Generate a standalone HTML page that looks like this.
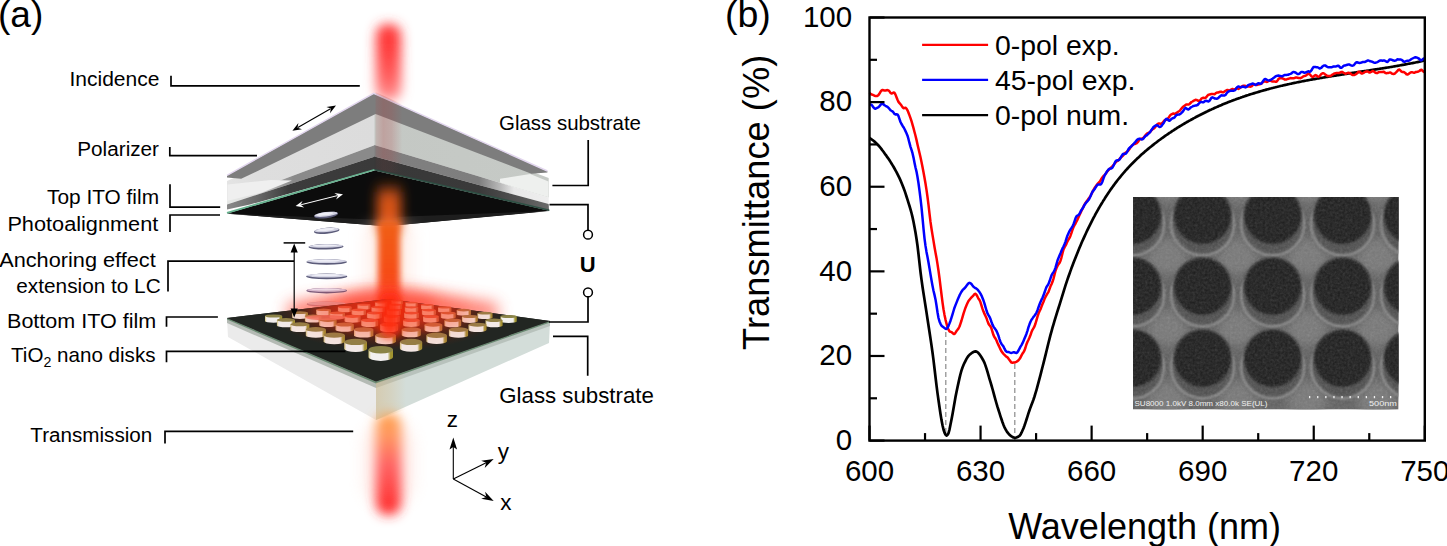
<!DOCTYPE html>
<html><head><meta charset="utf-8"><style>
html,body{margin:0;padding:0;background:#fff;}
svg{display:block;font-family:"Liberation Sans", sans-serif;}
</style></head><body>
<svg width="1447" height="546" viewBox="0 0 1447 546">
<defs>
<filter id="b3" x="-50%" y="-50%" width="200%" height="200%"><feGaussianBlur stdDeviation="3"/></filter>
<filter id="b5" x="-50%" y="-50%" width="200%" height="200%"><feGaussianBlur stdDeviation="5"/></filter>
<filter id="b6" x="-60%" y="-50%" width="220%" height="200%"><feGaussianBlur stdDeviation="6"/></filter>
<filter id="b8" x="-50%" y="-50%" width="200%" height="200%"><feGaussianBlur stdDeviation="8"/></filter>
<filter id="b14" x="-80%" y="-80%" width="260%" height="260%"><feGaussianBlur stdDeviation="14"/></filter>
<filter id="b1" x="-50%" y="-50%" width="200%" height="200%"><feGaussianBlur stdDeviation="1"/></filter>
<linearGradient id="beamTop" x1="0" y1="0" x2="0" y2="1">
 <stop offset="0" stop-color="#ff3c3c"/><stop offset="0.28" stop-color="#ff3a3a"/><stop offset="0.7" stop-color="#ff6060"/><stop offset="1" stop-color="#ff9a9a"/></linearGradient>
<linearGradient id="beamBot" x1="0" y1="0" x2="0" y2="1">
 <stop offset="0" stop-color="#ffa048"/><stop offset="0.2" stop-color="#ff9a60"/><stop offset="0.5" stop-color="#ff6464"/><stop offset="1" stop-color="#ff2828"/></linearGradient>
<linearGradient id="beamMid" x1="0" y1="0" x2="0" y2="1">
 <stop offset="0" stop-color="#f06018"/><stop offset="0.7" stop-color="#f84818"/><stop offset="1" stop-color="#ff2a10"/></linearGradient>
<radialGradient id="glow" cx="0.5" cy="0.5" r="0.5">
 <stop offset="0" stop-color="#ff2a10" stop-opacity="0.95"/><stop offset="0.5" stop-color="#ff4a30" stop-opacity="0.6"/><stop offset="1" stop-color="#ff6050" stop-opacity="0"/></radialGradient>
<radialGradient id="semglow" cx="0.5" cy="0.5" r="0.6">
 <stop offset="0" stop-color="#8a8a8a"/><stop offset="1" stop-color="#6a6a6a"/></radialGradient>
</defs>
<text x="-2" y="27" font-size="37" text-anchor="start" font-weight="normal" fill="#000" >(a)</text>
<rect x="376" y="24" width="25" height="77" rx="11" fill="url(#beamTop)" filter="url(#b6)"/>
<defs>
<linearGradient id="gL" gradientUnits="userSpaceOnUse" x1="227" y1="0" x2="374.5" y2="0">
 <stop offset="0" stop-color="#e4e4e4"/><stop offset="0.2" stop-color="#dedede"/><stop offset="1" stop-color="#dcdcdc"/></linearGradient>
<linearGradient id="gR" gradientUnits="userSpaceOnUse" x1="374.5" y1="0" x2="548.7" y2="0">
 <stop offset="0" stop-color="#c4c8c4"/><stop offset="1" stop-color="#c6cac6"/></linearGradient>
<linearGradient id="mL" gradientUnits="userSpaceOnUse" x1="227" y1="0" x2="374.5" y2="0">
 <stop offset="0" stop-color="#e6e8e6"/><stop offset="0.2" stop-color="#e0e0e0"/><stop offset="0.36" stop-color="#a0a0a0"/><stop offset="0.45" stop-color="#8a8a8a"/><stop offset="1" stop-color="#8a8a8a"/></linearGradient>
<linearGradient id="mR" gradientUnits="userSpaceOnUse" x1="374.5" y1="0" x2="548.7" y2="0">
 <stop offset="0" stop-color="#808080"/><stop offset="0.6" stop-color="#7e7e7e"/><stop offset="0.72" stop-color="#b8b8b8"/><stop offset="0.8" stop-color="#e8e8e8"/><stop offset="1" stop-color="#eeeeee"/></linearGradient>
<linearGradient id="dL" gradientUnits="userSpaceOnUse" x1="227" y1="0" x2="374.5" y2="0">
 <stop offset="0" stop-color="#8a8a8a"/><stop offset="0.2" stop-color="#6a6a6a"/><stop offset="0.42" stop-color="#3c3c3c"/><stop offset="1" stop-color="#3a3a3a"/></linearGradient>
<linearGradient id="dR" gradientUnits="userSpaceOnUse" x1="374.5" y1="0" x2="549" y2="0">
 <stop offset="0" stop-color="#383838"/><stop offset="0.6" stop-color="#3a3a3a"/><stop offset="0.85" stop-color="#555555"/><stop offset="1" stop-color="#6a6a6a"/></linearGradient>
<linearGradient id="tint" x1="0" y1="0" x2="1" y2="0">
 <stop offset="0" stop-color="#b04040" stop-opacity="0.12"/><stop offset="0.3" stop-color="#b04040" stop-opacity="0.28"/><stop offset="0.6" stop-color="#b04040" stop-opacity="0.22"/><stop offset="1" stop-color="#b04040" stop-opacity="0"/></linearGradient>
</defs>
<polygon points="227.0,181.0 375.1,113.0 375.1,144.9 227.0,200.3" fill="url(#gL)" />
<polygon points="374.5,113.0 548.7,178.0 548.7,197.4 374.5,144.9" fill="url(#gR)" />
<polygon points="227.0,200.3 375.1,144.9 375.1,156.5 227.0,204.5" fill="url(#mL)" />
<polygon points="374.5,144.9 548.7,197.4 548.7,204.0 374.5,156.5" fill="url(#mR)" />
<polygon points="227.0,204.5 375.1,156.5 375.1,169.5 250.0,204.5 227.0,209.5" fill="url(#dL)" />
<polygon points="374.5,156.5 548.7,204.0 549.0,210.6 374.5,170.3" fill="url(#dR)" />
<polygon points="500.0,178.7 530.2,174.1 548.5,181.5 548.5,197.2 514.0,187.0 500.0,182.6" fill="#eef0ee" />
<polygon points="227.5,184.5 271.0,180.0 292.0,180.5 262.0,192.5 227.5,200.8" fill="#efefef" />
<polygon points="227.0,213.5 374.5,170.5 549.4,210.8 386.0,226.3" fill="#0c0c0c" />
<polygon points="227.0,213.7 386.0,226.3 549.4,211.0 400.0,216.8 386.0,220.0" fill="#1e1e1e" />
<polyline points="227,212.9 374.5,169.7" fill="none" stroke="#66b28f" stroke-width="1.7"/>
<polygon points="374.5,168.9 549.4,209.4 549.4,211.1 374.5,170.6" fill="#2e5044" />
<polygon points="227.0,175.6 373.7,93.5 547.4,171.2 547.4,172.5 531.4,173.7 375.6,114.1 241.2,178.8 227.0,177.4" fill="#7d7d7d" />
<polyline points="227,175.4 373.7,93.3 547.4,171" fill="none" stroke="#e2d6ee" stroke-width="1.4"/>
<defs><clipPath id="tc1"><polygon points="375.3,92 548,170 548,204 375.3,156.5"/></clipPath><clipPath id="tc2"><polygon points="375.3,156.5 548,204 549,209.5 375.3,168.7"/></clipPath></defs>
<rect x="375.3" y="92" width="27" height="80" fill="url(#tint)" clip-path="url(#tc1)"/>
<rect x="375.3" y="92" width="27" height="80" fill="url(#tint)" opacity="0.35" clip-path="url(#tc2)"/>
<defs><linearGradient id="bInBlack" x1="0" y1="0" x2="0" y2="1"><stop offset="0" stop-color="#e65a18" stop-opacity="0"/><stop offset="0.3" stop-color="#e65a18" stop-opacity="0.9"/><stop offset="1" stop-color="#e85818"/></linearGradient></defs>
<rect x="377" y="181" width="24" height="52" fill="url(#bInBlack)" filter="url(#b6)"/>
<rect x="366" y="226" width="46" height="72" fill="#ffe0d4" opacity="0.5" filter="url(#b8)"/>
<rect x="378" y="222" width="22" height="92" fill="url(#beamMid)" filter="url(#b3)"/>
<polygon points="288,322 388,303 497,322 497,304 388,287 288,304" fill="#ff5a48" opacity="0.82" filter="url(#b8)"/>
<ellipse cx="388" cy="306" rx="50" ry="12" fill="#ff3020" opacity="0.6" filter="url(#b8)"/>
<g transform="translate(326,214.6) rotate(-7)"><ellipse cx="0" cy="0.5" rx="12.2" ry="3.1" fill="#5c5c7a"/><ellipse cx="0" cy="-0.3" rx="11.7" ry="2.2" fill="#d2d2e2"/><ellipse cx="-1" cy="-0.8" rx="8.5" ry="1.4" fill="#eeeef6"/></g>
<g transform="translate(326.7,230.3) rotate(-5)"><ellipse cx="0" cy="0.5" rx="12.8" ry="3.0" fill="#5c5c7a"/><ellipse cx="0" cy="-0.3" rx="12.3" ry="2.1" fill="#d2d2e2"/><ellipse cx="-1" cy="-0.8" rx="9.0" ry="1.3" fill="#eeeef6"/></g>
<g transform="translate(326,246.3) rotate(-1)"><ellipse cx="0" cy="0.5" rx="17.5" ry="2.6999999999999997" fill="#5c5c7a"/><ellipse cx="0" cy="-0.3" rx="17.0" ry="1.7999999999999998" fill="#d2d2e2"/><ellipse cx="-1" cy="-0.8" rx="12.2" ry="1.0" fill="#eeeef6"/></g>
<g transform="translate(326.7,261.4) rotate(0)"><ellipse cx="0" cy="0.5" rx="20.3" ry="2.8" fill="#5c5c7a"/><ellipse cx="0" cy="-0.3" rx="19.8" ry="1.9" fill="#d2d2e2"/><ellipse cx="-1" cy="-0.8" rx="14.2" ry="1.1" fill="#eeeef6"/></g>
<g transform="translate(326.7,275.9) rotate(0)"><ellipse cx="0" cy="0.5" rx="20.6" ry="2.8" fill="#5c5c7a"/><ellipse cx="0" cy="-0.3" rx="20.1" ry="1.9" fill="#d2d2e2"/><ellipse cx="-1" cy="-0.8" rx="14.4" ry="1.1" fill="#eeeef6"/></g>
<g transform="translate(326.7,290.2) rotate(0)"><ellipse cx="0" cy="0.5" rx="20.3" ry="2.6999999999999997" fill="#7a5a7a"/><ellipse cx="0" cy="-0.3" rx="19.8" ry="1.7999999999999998" fill="#d8bcd0"/><ellipse cx="-1" cy="-0.8" rx="14.2" ry="1.0" fill="#ecdce8"/></g>
<ellipse cx="326.5" cy="304.2" rx="19.8" ry="2.6" fill="#c86a70" opacity="0.8"/>
<ellipse cx="326.5" cy="303.6" rx="19" ry="1.8" fill="#f0a8a8" opacity="0.8"/>
<polygon points="227.0,319.0 376.0,383.0 376.0,420.0 228.0,337.0" fill="#ebebeb" />
<polygon points="376.0,383.0 550.0,322.0 549.0,343.0 376.0,420.0" fill="#d3ddd9" />
<polygon points="227.0,319.0 376.0,383.0 376.0,388.0 227.0,323.0" fill="#b4bab4" />
<polygon points="376.0,383.0 550.0,322.0 550.0,326.0 376.0,388.0" fill="#b8c2bc" />
<polygon points="227.0,317.8 376.0,381.6 550.0,320.8 550.0,322.6 376.0,383.6 227.0,319.6" fill="#6a8a72" />
<defs><radialGradient id="plateRed" gradientUnits="userSpaceOnUse" cx="388" cy="308" r="120" gradientTransform="translate(388 308) scale(1 0.36) translate(-388 -308)">
<stop offset="0" stop-color="#e02810"/><stop offset="0.35" stop-color="#b02a14"/><stop offset="0.7" stop-color="#4a2418"/><stop offset="1" stop-color="#222622"/></radialGradient>
<clipPath id="plateClip"><polygon points="227,318 388,299 550,321 376,381.5"/></clipPath></defs>
<polygon points="227.0,318.0 388.0,299.0 550.0,321.0 376.0,381.5" fill="#222622" />
<rect x="227" y="295" width="323" height="90" fill="url(#plateRed)" clip-path="url(#plateClip)"/>
<defs><linearGradient id="dg66" x1="0" y1="0" x2="1" y2="0"><stop offset="0" stop-color="#e89070"/><stop offset="0.1" stop-color="#f7a890"/><stop offset="0.78" stop-color="#f7a890"/><stop offset="0.9" stop-color="#d06040"/><stop offset="1" stop-color="#d06040"/></linearGradient></defs>
<path d="M391.3,300.5 L391.3,304.0 A5.8,0.9 0 0 0 402.9,304.0 L402.9,300.5 Z" fill="url(#dg66)"/>
<ellipse cx="397.1" cy="300.5" rx="5.8" ry="0.9" fill="#e8583a"/>
<defs><linearGradient id="dg56" x1="0" y1="0" x2="1" y2="0"><stop offset="0" stop-color="#e89070"/><stop offset="0.1" stop-color="#f7a890"/><stop offset="0.78" stop-color="#f7a890"/><stop offset="0.9" stop-color="#d06040"/><stop offset="1" stop-color="#d06040"/></linearGradient></defs>
<path d="M405.4,302.6 L405.4,306.2 A6.1,0.9 0 0 0 417.6,306.2 L417.6,302.6 Z" fill="url(#dg56)"/>
<ellipse cx="411.5" cy="302.6" rx="6.1" ry="0.9" fill="#e8583a"/>
<defs><linearGradient id="dg65" x1="0" y1="0" x2="1" y2="0"><stop offset="0" stop-color="#e89070"/><stop offset="0.1" stop-color="#f7a890"/><stop offset="0.78" stop-color="#f7a890"/><stop offset="0.9" stop-color="#d06040"/><stop offset="1" stop-color="#d06040"/></linearGradient></defs>
<path d="M375.1,302.5 L375.1,306.2 A6.1,0.9 0 0 0 387.4,306.2 L387.4,302.5 Z" fill="url(#dg65)"/>
<ellipse cx="381.3" cy="302.5" rx="6.1" ry="0.9" fill="#e8583a"/>
<defs><linearGradient id="dg46" x1="0" y1="0" x2="1" y2="0"><stop offset="0" stop-color="#e89070"/><stop offset="0.1" stop-color="#f7a890"/><stop offset="0.78" stop-color="#f7a890"/><stop offset="0.9" stop-color="#d06040"/><stop offset="1" stop-color="#d06040"/></linearGradient></defs>
<path d="M421.0,304.9 L421.0,308.7 A6.4,1.0 0 0 0 433.7,308.7 L433.7,304.9 Z" fill="url(#dg46)"/>
<ellipse cx="427.3" cy="304.9" rx="6.4" ry="1.0" fill="#e8583a"/>
<defs><linearGradient id="dg55" x1="0" y1="0" x2="1" y2="0"><stop offset="0" stop-color="#e89070"/><stop offset="0.1" stop-color="#f7a890"/><stop offset="0.78" stop-color="#f7a890"/><stop offset="0.9" stop-color="#d06040"/><stop offset="1" stop-color="#d06040"/></linearGradient></defs>
<path d="M389.3,304.8 L389.3,308.6 A6.4,1.0 0 0 0 402.1,308.6 L402.1,304.8 Z" fill="url(#dg55)"/>
<ellipse cx="395.7" cy="304.8" rx="6.4" ry="1.0" fill="#e8583a"/>
<defs><linearGradient id="dg64" x1="0" y1="0" x2="1" y2="0"><stop offset="0" stop-color="#e89070"/><stop offset="0.1" stop-color="#f7a890"/><stop offset="0.78" stop-color="#f7a890"/><stop offset="0.9" stop-color="#d06040"/><stop offset="1" stop-color="#d06040"/></linearGradient></defs>
<path d="M357.4,304.7 L357.4,308.6 A6.5,1.0 0 0 0 370.4,308.6 L370.4,304.7 Z" fill="url(#dg64)"/>
<ellipse cx="363.9" cy="304.7" rx="6.5" ry="1.0" fill="#e8583a"/>
<defs><linearGradient id="dg36" x1="0" y1="0" x2="1" y2="0"><stop offset="0" stop-color="#e59771"/><stop offset="0.1" stop-color="#f7ae98"/><stop offset="0.78" stop-color="#f7ae98"/><stop offset="0.9" stop-color="#c9673e"/><stop offset="1" stop-color="#c9673e"/></linearGradient></defs>
<path d="M438.0,307.4 L438.0,311.4 A6.7,1.1 0 0 0 451.4,311.4 L451.4,307.4 Z" fill="url(#dg36)"/>
<ellipse cx="444.7" cy="307.4" rx="6.7" ry="1.1" fill="#da5e3c"/>
<defs><linearGradient id="dg45" x1="0" y1="0" x2="1" y2="0"><stop offset="0" stop-color="#e89070"/><stop offset="0.1" stop-color="#f7a890"/><stop offset="0.78" stop-color="#f7a890"/><stop offset="0.9" stop-color="#d06040"/><stop offset="1" stop-color="#d06040"/></linearGradient></defs>
<path d="M404.8,307.3 L404.8,311.3 A6.7,1.1 0 0 0 418.2,311.3 L418.2,307.3 Z" fill="url(#dg45)"/>
<ellipse cx="411.5" cy="307.3" rx="6.7" ry="1.1" fill="#e8583a"/>
<defs><linearGradient id="dg54" x1="0" y1="0" x2="1" y2="0"><stop offset="0" stop-color="#e89070"/><stop offset="0.1" stop-color="#f7a890"/><stop offset="0.78" stop-color="#f7a890"/><stop offset="0.9" stop-color="#d06040"/><stop offset="1" stop-color="#d06040"/></linearGradient></defs>
<path d="M371.4,307.2 L371.4,311.3 A6.7,1.1 0 0 0 384.9,311.3 L384.9,307.2 Z" fill="url(#dg54)"/>
<ellipse cx="378.2" cy="307.2" rx="6.7" ry="1.1" fill="#e8583a"/>
<defs><linearGradient id="dg63" x1="0" y1="0" x2="1" y2="0"><stop offset="0" stop-color="#e89070"/><stop offset="0.1" stop-color="#f7a890"/><stop offset="0.78" stop-color="#f7a890"/><stop offset="0.9" stop-color="#d06040"/><stop offset="1" stop-color="#d06040"/></linearGradient></defs>
<path d="M337.9,307.1 L337.9,311.2 A6.9,1.1 0 0 0 351.6,311.2 L351.6,307.1 Z" fill="url(#dg63)"/>
<ellipse cx="344.8" cy="307.1" rx="6.9" ry="1.1" fill="#e8583a"/>
<defs><linearGradient id="dg26" x1="0" y1="0" x2="1" y2="0"><stop offset="0" stop-color="#dca974"/><stop offset="0.1" stop-color="#f5c8bb"/><stop offset="0.78" stop-color="#f5c8bb"/><stop offset="0.9" stop-color="#b97938"/><stop offset="1" stop-color="#b97938"/></linearGradient></defs>
<path d="M456.7,310.1 L456.7,314.4 A7.1,1.3 0 0 0 470.9,314.4 L470.9,310.1 Z" fill="url(#dg26)"/>
<ellipse cx="463.8" cy="310.1" rx="7.1" ry="1.3" fill="#bb6d41"/>
<defs><linearGradient id="dg35" x1="0" y1="0" x2="1" y2="0"><stop offset="0" stop-color="#e89070"/><stop offset="0.1" stop-color="#f7a890"/><stop offset="0.78" stop-color="#f7a890"/><stop offset="0.9" stop-color="#d06040"/><stop offset="1" stop-color="#d06040"/></linearGradient></defs>
<path d="M421.9,310.1 L421.9,314.3 A7.0,1.3 0 0 0 436.0,314.3 L436.0,310.1 Z" fill="url(#dg35)"/>
<ellipse cx="428.9" cy="310.1" rx="7.0" ry="1.3" fill="#e8583a"/>
<defs><linearGradient id="dg44" x1="0" y1="0" x2="1" y2="0"><stop offset="0" stop-color="#e89070"/><stop offset="0.1" stop-color="#f7a890"/><stop offset="0.78" stop-color="#f7a890"/><stop offset="0.9" stop-color="#d06040"/><stop offset="1" stop-color="#d06040"/></linearGradient></defs>
<path d="M386.9,310.0 L386.9,314.2 A7.1,1.3 0 0 0 401.0,314.2 L401.0,310.0 Z" fill="url(#dg44)"/>
<ellipse cx="393.9" cy="310.0" rx="7.1" ry="1.3" fill="#e8583a"/>
<defs><linearGradient id="dg53" x1="0" y1="0" x2="1" y2="0"><stop offset="0" stop-color="#e89070"/><stop offset="0.1" stop-color="#f7a890"/><stop offset="0.78" stop-color="#f7a890"/><stop offset="0.9" stop-color="#d06040"/><stop offset="1" stop-color="#d06040"/></linearGradient></defs>
<path d="M351.6,309.9 L351.6,314.2 A7.2,1.3 0 0 0 366.0,314.2 L366.0,309.9 Z" fill="url(#dg53)"/>
<ellipse cx="358.8" cy="309.9" rx="7.2" ry="1.3" fill="#e8583a"/>
<defs><linearGradient id="dg62" x1="0" y1="0" x2="1" y2="0"><stop offset="0" stop-color="#dfa373"/><stop offset="0.1" stop-color="#f5bfae"/><stop offset="0.78" stop-color="#f5bfae"/><stop offset="0.9" stop-color="#bf733a"/><stop offset="1" stop-color="#bf733a"/></linearGradient></defs>
<path d="M316.2,309.8 L316.2,314.2 A7.3,1.3 0 0 0 330.9,314.2 L330.9,309.8 Z" fill="url(#dg62)"/>
<ellipse cx="323.6" cy="309.8" rx="7.3" ry="1.3" fill="#c6683f"/>
<defs><linearGradient id="dg16" x1="0" y1="0" x2="1" y2="0"><stop offset="0" stop-color="#d5b976"/><stop offset="0.1" stop-color="#f3e0da"/><stop offset="0.78" stop-color="#f3e0da"/><stop offset="0.9" stop-color="#aa8933"/><stop offset="1" stop-color="#aa8933"/></linearGradient></defs>
<path d="M477.4,313.2 L477.4,317.7 A7.5,1.4 0 0 0 492.5,317.7 L492.5,313.2 Z" fill="url(#dg16)"/>
<ellipse cx="485.0" cy="313.2" rx="7.5" ry="1.4" fill="#9e7b45"/>
<defs><linearGradient id="dg25" x1="0" y1="0" x2="1" y2="0"><stop offset="0" stop-color="#e29d72"/><stop offset="0.1" stop-color="#f6b6a3"/><stop offset="0.78" stop-color="#f6b6a3"/><stop offset="0.9" stop-color="#c46d3c"/><stop offset="1" stop-color="#c46d3c"/></linearGradient></defs>
<path d="M440.8,313.1 L440.8,317.6 A7.4,1.4 0 0 0 455.7,317.6 L455.7,313.1 Z" fill="url(#dg25)"/>
<ellipse cx="448.3" cy="313.1" rx="7.4" ry="1.4" fill="#d1633d"/>
<defs><linearGradient id="dg34" x1="0" y1="0" x2="1" y2="0"><stop offset="0" stop-color="#e89070"/><stop offset="0.1" stop-color="#f7a890"/><stop offset="0.78" stop-color="#f7a890"/><stop offset="0.9" stop-color="#d06040"/><stop offset="1" stop-color="#d06040"/></linearGradient></defs>
<path d="M404.0,313.1 L404.0,317.5 A7.4,1.4 0 0 0 418.9,317.5 L418.9,313.1 Z" fill="url(#dg34)"/>
<ellipse cx="411.4" cy="313.1" rx="7.4" ry="1.4" fill="#e8583a"/>
<defs><linearGradient id="dg43" x1="0" y1="0" x2="1" y2="0"><stop offset="0" stop-color="#e89070"/><stop offset="0.1" stop-color="#f7a890"/><stop offset="0.78" stop-color="#f7a890"/><stop offset="0.9" stop-color="#d06040"/><stop offset="1" stop-color="#d06040"/></linearGradient></defs>
<path d="M366.9,313.0 L366.9,317.5 A7.5,1.4 0 0 0 381.9,317.5 L381.9,313.0 Z" fill="url(#dg43)"/>
<ellipse cx="374.4" cy="313.0" rx="7.5" ry="1.4" fill="#e8583a"/>
<defs><linearGradient id="dg52" x1="0" y1="0" x2="1" y2="0"><stop offset="0" stop-color="#e49871"/><stop offset="0.1" stop-color="#f7ae99"/><stop offset="0.78" stop-color="#f7ae99"/><stop offset="0.9" stop-color="#c9683e"/><stop offset="1" stop-color="#c9683e"/></linearGradient></defs>
<path d="M329.6,312.9 L329.6,317.5 A7.7,1.4 0 0 0 345.0,317.5 L345.0,312.9 Z" fill="url(#dg52)"/>
<ellipse cx="337.3" cy="312.9" rx="7.7" ry="1.4" fill="#da5e3c"/>
<defs><linearGradient id="dg61" x1="0" y1="0" x2="1" y2="0"><stop offset="0" stop-color="#d7b676"/><stop offset="0.1" stop-color="#f3dbd4"/><stop offset="0.78" stop-color="#f3dbd4"/><stop offset="0.9" stop-color="#ad8634"/><stop offset="1" stop-color="#ad8634"/></linearGradient></defs>
<path d="M292.1,312.7 L292.1,317.5 A7.9,1.4 0 0 0 307.9,317.5 L307.9,312.7 Z" fill="url(#dg61)"/>
<ellipse cx="300.0" cy="312.7" rx="7.9" ry="1.4" fill="#a47844"/>
<defs><linearGradient id="dg06" x1="0" y1="0" x2="1" y2="0"><stop offset="0" stop-color="#d0c478"/><stop offset="0.1" stop-color="#f2f0ef"/><stop offset="0.78" stop-color="#f2f0ef"/><stop offset="0.9" stop-color="#a09430"/><stop offset="1" stop-color="#a09430"/></linearGradient></defs>
<path d="M500.5,316.5 L500.5,321.4 A8.1,1.6 0 0 0 516.7,321.4 L516.7,316.5 Z" fill="url(#dg06)"/>
<ellipse cx="508.6" cy="316.5" rx="8.1" ry="1.6" fill="#8b8448"/>
<defs><linearGradient id="dg15" x1="0" y1="0" x2="1" y2="0"><stop offset="0" stop-color="#d9b175"/><stop offset="0.1" stop-color="#f4d4ca"/><stop offset="0.78" stop-color="#f4d4ca"/><stop offset="0.9" stop-color="#b28136"/><stop offset="1" stop-color="#b28136"/></linearGradient></defs>
<path d="M461.9,316.5 L461.9,321.3 A7.9,1.6 0 0 0 477.8,321.3 L477.8,316.5 Z" fill="url(#dg15)"/>
<ellipse cx="469.8" cy="316.5" rx="7.9" ry="1.6" fill="#ad7443"/>
<defs><linearGradient id="dg24" x1="0" y1="0" x2="1" y2="0"><stop offset="0" stop-color="#e79270"/><stop offset="0.1" stop-color="#f7a890"/><stop offset="0.78" stop-color="#f7a890"/><stop offset="0.9" stop-color="#ce623f"/><stop offset="1" stop-color="#ce623f"/></linearGradient></defs>
<path d="M423.0,316.5 L423.0,321.2 A7.9,1.6 0 0 0 438.8,321.2 L438.8,316.5 Z" fill="url(#dg24)"/>
<ellipse cx="430.9" cy="316.5" rx="7.9" ry="1.6" fill="#e5593a"/>
<defs><linearGradient id="dg33" x1="0" y1="0" x2="1" y2="0"><stop offset="0" stop-color="#e89070"/><stop offset="0.1" stop-color="#f7a890"/><stop offset="0.78" stop-color="#f7a890"/><stop offset="0.9" stop-color="#d06040"/><stop offset="1" stop-color="#d06040"/></linearGradient></defs>
<path d="M383.9,316.4 L383.9,321.2 A7.9,1.6 0 0 0 399.7,321.2 L399.7,316.4 Z" fill="url(#dg33)"/>
<ellipse cx="391.8" cy="316.4" rx="7.9" ry="1.6" fill="#e8583a"/>
<defs><linearGradient id="dg42" x1="0" y1="0" x2="1" y2="0"><stop offset="0" stop-color="#e89070"/><stop offset="0.1" stop-color="#f7a890"/><stop offset="0.78" stop-color="#f7a890"/><stop offset="0.9" stop-color="#d06040"/><stop offset="1" stop-color="#d06040"/></linearGradient></defs>
<path d="M344.5,316.3 L344.5,321.2 A8.0,1.6 0 0 0 360.6,321.2 L360.6,316.3 Z" fill="url(#dg42)"/>
<ellipse cx="352.6" cy="316.3" rx="8.0" ry="1.6" fill="#e8583a"/>
<defs><linearGradient id="dg51" x1="0" y1="0" x2="1" y2="0"><stop offset="0" stop-color="#daaf75"/><stop offset="0.1" stop-color="#f4d0c6"/><stop offset="0.78" stop-color="#f4d0c6"/><stop offset="0.9" stop-color="#b47f37"/><stop offset="1" stop-color="#b47f37"/></linearGradient></defs>
<path d="M304.9,316.2 L304.9,321.2 A8.3,1.6 0 0 0 321.4,321.2 L321.4,316.2 Z" fill="url(#dg51)"/>
<ellipse cx="313.1" cy="316.2" rx="8.3" ry="1.6" fill="#b17242"/>
<defs><linearGradient id="dg60" x1="0" y1="0" x2="1" y2="0"><stop offset="0" stop-color="#d0c378"/><stop offset="0.1" stop-color="#f2eeee"/><stop offset="0.78" stop-color="#f2eeee"/><stop offset="0.9" stop-color="#a19330"/><stop offset="1" stop-color="#a19330"/></linearGradient></defs>
<path d="M265.0,316.0 L265.0,321.2 A8.6,1.6 0 0 0 282.2,321.2 L282.2,316.0 Z" fill="url(#dg60)"/>
<ellipse cx="273.6" cy="316.0" rx="8.6" ry="1.6" fill="#8c8348"/>
<defs><linearGradient id="dg05" x1="0" y1="0" x2="1" y2="0"><stop offset="0" stop-color="#d2c077"/><stop offset="0.1" stop-color="#f2eae8"/><stop offset="0.78" stop-color="#f2eae8"/><stop offset="0.9" stop-color="#a49031"/><stop offset="1" stop-color="#a49031"/></linearGradient></defs>
<path d="M485.5,320.3 L485.5,325.5 A8.5,1.8 0 0 0 502.6,325.5 L502.6,320.3 Z" fill="url(#dg05)"/>
<ellipse cx="494.0" cy="320.3" rx="8.5" ry="1.8" fill="#918147"/>
<defs><linearGradient id="dg14" x1="0" y1="0" x2="1" y2="0"><stop offset="0" stop-color="#dda874"/><stop offset="0.1" stop-color="#f5c7b9"/><stop offset="0.78" stop-color="#f5c7b9"/><stop offset="0.9" stop-color="#ba7839"/><stop offset="1" stop-color="#ba7839"/></linearGradient></defs>
<path d="M444.4,320.3 L444.4,325.4 A8.4,1.8 0 0 0 461.2,325.4 L461.2,320.3 Z" fill="url(#dg14)"/>
<ellipse cx="452.8" cy="320.3" rx="8.4" ry="1.8" fill="#bc6d41"/>
<defs><linearGradient id="dg23" x1="0" y1="0" x2="1" y2="0"><stop offset="0" stop-color="#e89070"/><stop offset="0.1" stop-color="#f7a890"/><stop offset="0.78" stop-color="#f7a890"/><stop offset="0.9" stop-color="#d06040"/><stop offset="1" stop-color="#d06040"/></linearGradient></defs>
<path d="M403.0,320.3 L403.0,325.3 A8.4,1.8 0 0 0 419.7,325.3 L419.7,320.3 Z" fill="url(#dg23)"/>
<ellipse cx="411.3" cy="320.3" rx="8.4" ry="1.8" fill="#e8583a"/>
<defs><linearGradient id="dg32" x1="0" y1="0" x2="1" y2="0"><stop offset="0" stop-color="#e89070"/><stop offset="0.1" stop-color="#f7a890"/><stop offset="0.78" stop-color="#f7a890"/><stop offset="0.9" stop-color="#d06040"/><stop offset="1" stop-color="#d06040"/></linearGradient></defs>
<path d="M361.2,320.2 L361.2,325.3 A8.5,1.8 0 0 0 378.2,325.3 L378.2,320.2 Z" fill="url(#dg32)"/>
<ellipse cx="369.7" cy="320.2" rx="8.5" ry="1.8" fill="#e8583a"/>
<defs><linearGradient id="dg41" x1="0" y1="0" x2="1" y2="0"><stop offset="0" stop-color="#dda874"/><stop offset="0.1" stop-color="#f5c6b8"/><stop offset="0.78" stop-color="#f5c6b8"/><stop offset="0.9" stop-color="#ba7839"/><stop offset="1" stop-color="#ba7839"/></linearGradient></defs>
<path d="M319.2,320.1 L319.2,325.3 A8.7,1.8 0 0 0 336.6,325.3 L336.6,320.1 Z" fill="url(#dg41)"/>
<ellipse cx="327.9" cy="320.1" rx="8.7" ry="1.8" fill="#bd6c40"/>
<defs><linearGradient id="dg50" x1="0" y1="0" x2="1" y2="0"><stop offset="0" stop-color="#d2c077"/><stop offset="0.1" stop-color="#f2eae8"/><stop offset="0.78" stop-color="#f2eae8"/><stop offset="0.9" stop-color="#a49031"/><stop offset="1" stop-color="#a49031"/></linearGradient></defs>
<path d="M276.9,319.9 L276.9,325.4 A9.0,1.8 0 0 0 295.0,325.4 L295.0,319.9 Z" fill="url(#dg50)"/>
<ellipse cx="285.9" cy="319.9" rx="9.0" ry="1.8" fill="#918047"/>
<defs><linearGradient id="dg04" x1="0" y1="0" x2="1" y2="0"><stop offset="0" stop-color="#d4bc77"/><stop offset="0.1" stop-color="#f3e4df"/><stop offset="0.78" stop-color="#f3e4df"/><stop offset="0.9" stop-color="#a88c33"/><stop offset="1" stop-color="#a88c33"/></linearGradient></defs>
<path d="M468.5,324.7 L468.5,330.1 A9.0,2.0 0 0 0 486.5,330.1 L486.5,324.7 Z" fill="url(#dg04)"/>
<ellipse cx="477.5" cy="324.7" rx="9.0" ry="2.0" fill="#997d46"/>
<defs><linearGradient id="dg13" x1="0" y1="0" x2="1" y2="0"><stop offset="0" stop-color="#dfa373"/><stop offset="0.1" stop-color="#f5bfae"/><stop offset="0.78" stop-color="#f5bfae"/><stop offset="0.9" stop-color="#bf733a"/><stop offset="1" stop-color="#bf733a"/></linearGradient></defs>
<path d="M424.5,324.7 L424.5,330.0 A8.9,2.0 0 0 0 442.3,330.0 L442.3,324.7 Z" fill="url(#dg13)"/>
<ellipse cx="433.4" cy="324.7" rx="8.9" ry="2.0" fill="#c6683f"/>
<defs><linearGradient id="dg22" x1="0" y1="0" x2="1" y2="0"><stop offset="0" stop-color="#e69471"/><stop offset="0.1" stop-color="#f7a991"/><stop offset="0.78" stop-color="#f7a991"/><stop offset="0.9" stop-color="#cd643f"/><stop offset="1" stop-color="#cd643f"/></linearGradient></defs>
<path d="M380.1,324.6 L380.1,330.0 A9.0,2.0 0 0 0 398.1,330.0 L398.1,324.6 Z" fill="url(#dg22)"/>
<ellipse cx="389.1" cy="324.6" rx="9.0" ry="2.0" fill="#e15b3b"/>
<defs><linearGradient id="dg31" x1="0" y1="0" x2="1" y2="0"><stop offset="0" stop-color="#dfa473"/><stop offset="0.1" stop-color="#f5c0b0"/><stop offset="0.78" stop-color="#f5c0b0"/><stop offset="0.9" stop-color="#be743a"/><stop offset="1" stop-color="#be743a"/></linearGradient></defs>
<path d="M335.5,324.5 L335.5,330.0 A9.2,2.0 0 0 0 353.8,330.0 L353.8,324.5 Z" fill="url(#dg31)"/>
<ellipse cx="344.6" cy="324.5" rx="9.2" ry="2.0" fill="#c4693f"/>
<defs><linearGradient id="dg40" x1="0" y1="0" x2="1" y2="0"><stop offset="0" stop-color="#d3bd77"/><stop offset="0.1" stop-color="#f3e5e1"/><stop offset="0.78" stop-color="#f3e5e1"/><stop offset="0.9" stop-color="#a78d32"/><stop offset="1" stop-color="#a78d32"/></linearGradient></defs>
<path d="M290.4,324.3 L290.4,330.0 A9.5,2.0 0 0 0 309.4,330.0 L309.4,324.3 Z" fill="url(#dg40)"/>
<ellipse cx="299.9" cy="324.3" rx="9.5" ry="2.0" fill="#977e46"/>
<defs><linearGradient id="dg03" x1="0" y1="0" x2="1" y2="0"><stop offset="0" stop-color="#d5b876"/><stop offset="0.1" stop-color="#f3dfd9"/><stop offset="0.78" stop-color="#f3dfd9"/><stop offset="0.9" stop-color="#ab8834"/><stop offset="1" stop-color="#ab8834"/></linearGradient></defs>
<path d="M448.9,329.6 L448.9,335.4 A9.6,2.3 0 0 0 468.1,335.4 L468.1,329.6 Z" fill="url(#dg03)"/>
<ellipse cx="458.5" cy="329.6" rx="9.6" ry="2.3" fill="#9f7a45"/>
<defs><linearGradient id="dg12" x1="0" y1="0" x2="1" y2="0"><stop offset="0" stop-color="#dea573"/><stop offset="0.1" stop-color="#f5c2b3"/><stop offset="0.78" stop-color="#f5c2b3"/><stop offset="0.9" stop-color="#bd753a"/><stop offset="1" stop-color="#bd753a"/></linearGradient></defs>
<path d="M401.7,329.6 L401.7,335.3 A9.6,2.3 0 0 0 420.8,335.3 L420.8,329.6 Z" fill="url(#dg12)"/>
<ellipse cx="411.2" cy="329.6" rx="9.6" ry="2.3" fill="#c26a40"/>
<defs><linearGradient id="dg21" x1="0" y1="0" x2="1" y2="0"><stop offset="0" stop-color="#dea673"/><stop offset="0.1" stop-color="#f5c4b5"/><stop offset="0.78" stop-color="#f5c4b5"/><stop offset="0.9" stop-color="#bb7639"/><stop offset="1" stop-color="#bb7639"/></linearGradient></defs>
<path d="M354.0,329.5 L354.0,335.3 A9.7,2.3 0 0 0 373.4,335.3 L373.4,329.5 Z" fill="url(#dg21)"/>
<ellipse cx="363.7" cy="329.5" rx="9.7" ry="2.3" fill="#c06b40"/>
<defs><linearGradient id="dg30" x1="0" y1="0" x2="1" y2="0"><stop offset="0" stop-color="#d4ba77"/><stop offset="0.1" stop-color="#f3e2dd"/><stop offset="0.78" stop-color="#f3e2dd"/><stop offset="0.9" stop-color="#a98a33"/><stop offset="1" stop-color="#a98a33"/></linearGradient></defs>
<path d="M305.8,329.4 L305.8,335.4 A10.0,2.3 0 0 0 325.9,335.4 L325.9,329.4 Z" fill="url(#dg30)"/>
<ellipse cx="315.9" cy="329.4" rx="10.0" ry="2.3" fill="#9b7c45"/>
<defs><linearGradient id="dg02" x1="0" y1="0" x2="1" y2="0"><stop offset="0" stop-color="#d5b876"/><stop offset="0.1" stop-color="#f3dfd9"/><stop offset="0.78" stop-color="#f3dfd9"/><stop offset="0.9" stop-color="#ab8834"/><stop offset="1" stop-color="#ab8834"/></linearGradient></defs>
<path d="M426.4,335.3 L426.4,341.5 A10.3,2.7 0 0 0 446.9,341.5 L446.9,335.3 Z" fill="url(#dg02)"/>
<ellipse cx="436.6" cy="335.3" rx="10.3" ry="2.7" fill="#9f7a45"/>
<defs><linearGradient id="dg11" x1="0" y1="0" x2="1" y2="0"><stop offset="0" stop-color="#d9b075"/><stop offset="0.1" stop-color="#f4d3c9"/><stop offset="0.78" stop-color="#f4d3c9"/><stop offset="0.9" stop-color="#b28036"/><stop offset="1" stop-color="#b28036"/></linearGradient></defs>
<path d="M375.2,335.3 L375.2,341.5 A10.3,2.7 0 0 0 395.9,341.5 L395.9,335.3 Z" fill="url(#dg11)"/>
<ellipse cx="385.6" cy="335.3" rx="10.3" ry="2.7" fill="#ae7343"/>
<defs><linearGradient id="dg20" x1="0" y1="0" x2="1" y2="0"><stop offset="0" stop-color="#d4bb77"/><stop offset="0.1" stop-color="#f3e3de"/><stop offset="0.78" stop-color="#f3e3de"/><stop offset="0.9" stop-color="#a88b33"/><stop offset="1" stop-color="#a88b33"/></linearGradient></defs>
<path d="M323.6,335.1 L323.6,341.5 A10.6,2.7 0 0 0 344.9,341.5 L344.9,335.1 Z" fill="url(#dg20)"/>
<ellipse cx="334.2" cy="335.1" rx="10.6" ry="2.7" fill="#9a7c46"/>
<defs><linearGradient id="dg01" x1="0" y1="0" x2="1" y2="0"><stop offset="0" stop-color="#d3be77"/><stop offset="0.1" stop-color="#f3e7e4"/><stop offset="0.78" stop-color="#f3e7e4"/><stop offset="0.9" stop-color="#a68e32"/><stop offset="1" stop-color="#a68e32"/></linearGradient></defs>
<path d="M399.9,341.9 L399.9,348.6 A11.1,3.2 0 0 0 422.2,348.6 L422.2,341.9 Z" fill="url(#dg01)"/>
<ellipse cx="411.1" cy="341.9" rx="11.1" ry="3.2" fill="#957f46"/>
<defs><linearGradient id="dg10" x1="0" y1="0" x2="1" y2="0"><stop offset="0" stop-color="#d2bf77"/><stop offset="0.1" stop-color="#f2e9e7"/><stop offset="0.78" stop-color="#f2e9e7"/><stop offset="0.9" stop-color="#a48f31"/><stop offset="1" stop-color="#a48f31"/></linearGradient></defs>
<path d="M344.2,341.9 L344.2,348.7 A11.4,3.2 0 0 0 367.0,348.7 L367.0,341.9 Z" fill="url(#dg10)"/>
<ellipse cx="355.6" cy="341.9" rx="11.4" ry="3.2" fill="#938047"/>
<defs><linearGradient id="dg00" x1="0" y1="0" x2="1" y2="0"><stop offset="0" stop-color="#d0c478"/><stop offset="0.1" stop-color="#f2f0f0"/><stop offset="0.78" stop-color="#f2f0f0"/><stop offset="0.9" stop-color="#a09430"/><stop offset="1" stop-color="#a09430"/></linearGradient></defs>
<path d="M368.5,349.8 L368.5,357.1 A12.2,3.8 0 0 0 393.0,357.1 L393.0,349.8 Z" fill="url(#dg00)"/>
<ellipse cx="380.8" cy="349.8" rx="12.2" ry="3.8" fill="#8a8448"/>
<ellipse cx="325.5" cy="317.6" rx="20" ry="2.6" fill="#f07a68" opacity="0.85"/>
<ellipse cx="390" cy="312" rx="80" ry="18" fill="#ff3018" opacity="0.35" filter="url(#b8)"/>
<rect x="380" y="292" width="20" height="46" rx="9" fill="#ff2a0a" opacity="0.9" filter="url(#b5)"/>
<line x1="283.6" y1="242.9" x2="305.2" y2="242.9" stroke="#000" stroke-width="1.5" />
<line x1="294.2" y1="246" x2="294.2" y2="312" stroke="#000" stroke-width="1.2" />
<polygon points="294.2,243.6 290.6,252.5 297.8,252.5" fill="#000"/>
<polygon points="294.2,317.5 290.6,308.5 297.8,308.5" fill="#000"/>
<rect x="364" y="424" width="49" height="80" rx="20" fill="#ffd6cc" opacity="0.45" filter="url(#b8)"/>
<rect x="376" y="413" width="25" height="102" rx="12" fill="url(#beamBot)" filter="url(#b6)"/>
<defs><linearGradient id="gtint" x1="0" y1="0" x2="1" y2="0"><stop offset="0" stop-color="#d8b47c" stop-opacity="0.42"/><stop offset="0.5" stop-color="#d8b47c" stop-opacity="0.25"/><stop offset="1" stop-color="#d8b47c" stop-opacity="0"/></linearGradient></defs>
<polygon points="376.0,383.0 376.0,420.0 406.0,409.5 406.0,372.5" fill="url(#gtint)" />
<text x="69.5" y="85.7" font-size="20" text-anchor="start" font-weight="normal" fill="#000" textLength="89.9" lengthAdjust="spacingAndGlyphs" >Incidence</text>
<text x="77.3" y="156.3" font-size="20" text-anchor="start" font-weight="normal" fill="#000" textLength="81.7" lengthAdjust="spacingAndGlyphs" >Polarizer</text>
<text x="47.0" y="204.1" font-size="20" text-anchor="start" font-weight="normal" fill="#000" textLength="112.0" lengthAdjust="spacingAndGlyphs" >Top ITO film</text>
<text x="7.3999999999999995" y="231.4" font-size="20" text-anchor="start" font-weight="normal" fill="#000" textLength="150.9" lengthAdjust="spacingAndGlyphs" >Photoalignment</text>
<text x="-0.8" y="266.7" font-size="20" text-anchor="start" font-weight="normal" fill="#000" textLength="156.5" lengthAdjust="spacingAndGlyphs" >Anchoring effect</text>
<text x="16.3" y="293" font-size="20" text-anchor="start" font-weight="normal" fill="#000" textLength="144.4" lengthAdjust="spacingAndGlyphs" >extension to LC</text>
<text x="7.0" y="328" font-size="20" text-anchor="start" font-weight="normal" fill="#000" textLength="149.3" lengthAdjust="spacingAndGlyphs" >Bottom ITO film</text>
<text x="30.3" y="441.6" font-size="20" text-anchor="start" font-weight="normal" fill="#000" textLength="122.0" lengthAdjust="spacingAndGlyphs" >Transmission</text>
<text x="11" y="362.2" font-size="20.6" fill="#000">TiO<tspan font-size="14.2" dy="5">2</tspan><tspan dy="-5"> nano disks</tspan></text>
<text x="499" y="129.7" font-size="19.8" text-anchor="start" font-weight="normal" fill="#000" textLength="142" lengthAdjust="spacingAndGlyphs" >Glass substrate</text>
<text x="499.3" y="403.4" font-size="22.6" text-anchor="start" font-weight="normal" fill="#000" textLength="154.5" lengthAdjust="spacingAndGlyphs" >Glass substrate</text>
<text x="587.8" y="271.8" font-size="22" text-anchor="middle" font-weight="bold" fill="#000" >U</text>
<polyline points="171,75.8 171,85.9 359.8,85.9" fill="none" stroke="#000" stroke-width="1.7"/>
<polyline points="169.8,147 169.8,155.6 257,155.6" fill="none" stroke="#000" stroke-width="1.7"/>
<polyline points="170,184.3 170,207.2 220.2,207.2" fill="none" stroke="#000" stroke-width="1.7"/>
<polyline points="220,215 170,215 170,232" fill="none" stroke="#000" stroke-width="1.7"/>
<polyline points="294,261.1 168,261.1 168,291.5" fill="none" stroke="#000" stroke-width="1.7"/>
<polyline points="166.5,326.7 166.5,317 217.9,317" fill="none" stroke="#000" stroke-width="1.7"/>
<polyline points="166.5,362.2 166.5,351.3 345.4,351.3" fill="none" stroke="#000" stroke-width="1.7"/>
<polyline points="165,443.6 165,431.3 353.2,431.3" fill="none" stroke="#000" stroke-width="1.7"/>
<polyline points="588.2,140 588.2,185.5 552.4,185.5" fill="none" stroke="#000" stroke-width="1.7"/>
<polyline points="553,336.3 587.7,336.3 587.7,375.7" fill="none" stroke="#000" stroke-width="1.7"/>
<polyline points="549.5,204.6 588,204.6 588,230.2" fill="none" stroke="#000" stroke-width="1.7"/>
<polyline points="588,296.9 588,322 549,322" fill="none" stroke="#000" stroke-width="1.7"/>
<circle cx="588" cy="234.7" r="4.4" fill="#fff" stroke="#000" stroke-width="1.5"/>
<circle cx="588" cy="292.4" r="4.4" fill="#fff" stroke="#000" stroke-width="1.5"/>
<line x1="297.85988556107066" y1="127.55680900039278" x2="330.5401144389293" y2="108.74319099960721" stroke="#000" stroke-width="1.1" />
<polygon points="336.0,105.6 330.0,113.2 330.9,108.5 326.4,107.0" fill="#000"/>
<polygon points="292.4,130.7 302.0,129.3 297.5,127.8 298.4,123.1" fill="#000"/>
<line x1="301.03144723653907" y1="204.73640881614313" x2="337.56855276346096" y2="195.56359118385686" stroke="#fff" stroke-width="1.0" />
<polygon points="343.0,194.2 336.1,199.4 338.0,195.5 334.4,192.9" fill="#fff"/>
<polygon points="295.6,206.1 304.2,207.4 300.6,204.8 302.5,200.9" fill="#fff"/>
<line x1="453.3" y1="479" x2="453.3" y2="446" stroke="#000" stroke-width="1.1" />
<polygon points="453.3,437.4 449.5,449.5 453.3,447 457.1,449.5" fill="#000"/>
<line x1="453.3" y1="479" x2="486.1719637476597" y2="462.72675061997046" stroke="#000" stroke-width="1.1" />
<polygon points="493.7,459.0 484.7,467.9 486.2,462.7 481.2,460.7" fill="#000"/>
<line x1="453.3" y1="479" x2="486.32288759822126" y2="496.98276057328883" stroke="#000" stroke-width="1.1" />
<polygon points="493.7,501.0 481.2,498.8 486.3,497.0 485.1,491.7" fill="#000"/>
<text x="446.8" y="427.3" font-size="22.5" text-anchor="start" font-weight="normal" fill="#000" >z</text>
<text x="497.8" y="458.6" font-size="22.5" text-anchor="start" font-weight="normal" fill="#000" >y</text>
<text x="500.3" y="510.2" font-size="22.5" text-anchor="start" font-weight="normal" fill="#000" >x</text>
<text x="725" y="27" font-size="37.5" text-anchor="start" font-weight="normal" fill="#000" >(b)</text>
<svg x="1133" y="197" width="265.5" height="212.5" viewBox="0 0 265.5 212.5" overflow="hidden">
<defs><filter id="semb" x="-20%" y="-20%" width="140%" height="140%"><feGaussianBlur stdDeviation="2.5"/></filter><filter id="noise"><feTurbulence type="fractalNoise" baseFrequency="0.4" numOctaves="2" seed="3"/><feColorMatrix type="saturate" values="0"/></filter></defs>
<rect width="265.5" height="212.5" fill="#626262"/>
<ellipse cx="-35.4" cy="-12.5" rx="20" ry="18" fill="#787878" filter="url(#b5)"/>
<ellipse cx="34.4" cy="-12.5" rx="20" ry="18" fill="#787878" filter="url(#b5)"/>
<ellipse cx="104.2" cy="-12.5" rx="20" ry="18" fill="#787878" filter="url(#b5)"/>
<ellipse cx="174.0" cy="-12.5" rx="20" ry="18" fill="#787878" filter="url(#b5)"/>
<ellipse cx="243.8" cy="-12.5" rx="20" ry="18" fill="#787878" filter="url(#b5)"/>
<ellipse cx="313.6" cy="-12.5" rx="20" ry="18" fill="#787878" filter="url(#b5)"/>
<ellipse cx="-35.4" cy="59.0" rx="20" ry="18" fill="#787878" filter="url(#b5)"/>
<ellipse cx="34.4" cy="59.0" rx="20" ry="18" fill="#787878" filter="url(#b5)"/>
<ellipse cx="104.2" cy="59.0" rx="20" ry="18" fill="#787878" filter="url(#b5)"/>
<ellipse cx="174.0" cy="59.0" rx="20" ry="18" fill="#787878" filter="url(#b5)"/>
<ellipse cx="243.8" cy="59.0" rx="20" ry="18" fill="#787878" filter="url(#b5)"/>
<ellipse cx="313.6" cy="59.0" rx="20" ry="18" fill="#787878" filter="url(#b5)"/>
<ellipse cx="-35.4" cy="130.5" rx="20" ry="18" fill="#787878" filter="url(#b5)"/>
<ellipse cx="34.4" cy="130.5" rx="20" ry="18" fill="#787878" filter="url(#b5)"/>
<ellipse cx="104.2" cy="130.5" rx="20" ry="18" fill="#787878" filter="url(#b5)"/>
<ellipse cx="174.0" cy="130.5" rx="20" ry="18" fill="#787878" filter="url(#b5)"/>
<ellipse cx="243.8" cy="130.5" rx="20" ry="18" fill="#787878" filter="url(#b5)"/>
<ellipse cx="313.6" cy="130.5" rx="20" ry="18" fill="#787878" filter="url(#b5)"/>
<ellipse cx="-35.4" cy="202.0" rx="20" ry="18" fill="#787878" filter="url(#b5)"/>
<ellipse cx="34.4" cy="202.0" rx="20" ry="18" fill="#787878" filter="url(#b5)"/>
<ellipse cx="104.2" cy="202.0" rx="20" ry="18" fill="#787878" filter="url(#b5)"/>
<ellipse cx="174.0" cy="202.0" rx="20" ry="18" fill="#787878" filter="url(#b5)"/>
<ellipse cx="243.8" cy="202.0" rx="20" ry="18" fill="#787878" filter="url(#b5)"/>
<ellipse cx="313.6" cy="202.0" rx="20" ry="18" fill="#787878" filter="url(#b5)"/>
<ellipse cx="-0.4" cy="27.5" rx="31.5" ry="31" fill="#4e4e4e" filter="url(#b3)"/>
<ellipse cx="-0.4" cy="27.5" rx="31.5" ry="31" fill="none" stroke="#8c8c8c" stroke-width="2.4" filter="url(#b1)"/>
<ellipse cx="69.6" cy="27.5" rx="31.5" ry="31" fill="#4e4e4e" filter="url(#b3)"/>
<ellipse cx="69.6" cy="27.5" rx="31.5" ry="31" fill="none" stroke="#8c8c8c" stroke-width="2.4" filter="url(#b1)"/>
<ellipse cx="139.7" cy="27.5" rx="31.5" ry="31" fill="#4e4e4e" filter="url(#b3)"/>
<ellipse cx="139.7" cy="27.5" rx="31.5" ry="31" fill="none" stroke="#8c8c8c" stroke-width="2.4" filter="url(#b1)"/>
<ellipse cx="209.6" cy="27.5" rx="31.5" ry="31" fill="#4e4e4e" filter="url(#b3)"/>
<ellipse cx="209.6" cy="27.5" rx="31.5" ry="31" fill="none" stroke="#8c8c8c" stroke-width="2.4" filter="url(#b1)"/>
<ellipse cx="279.6" cy="27.5" rx="31.5" ry="31" fill="#4e4e4e" filter="url(#b3)"/>
<ellipse cx="279.6" cy="27.5" rx="31.5" ry="31" fill="none" stroke="#8c8c8c" stroke-width="2.4" filter="url(#b1)"/>
<ellipse cx="-0.4" cy="98.5" rx="31.5" ry="31" fill="#4e4e4e" filter="url(#b3)"/>
<ellipse cx="-0.4" cy="98.5" rx="31.5" ry="31" fill="none" stroke="#8c8c8c" stroke-width="2.4" filter="url(#b1)"/>
<ellipse cx="69.6" cy="98.5" rx="31.5" ry="31" fill="#4e4e4e" filter="url(#b3)"/>
<ellipse cx="69.6" cy="98.5" rx="31.5" ry="31" fill="none" stroke="#8c8c8c" stroke-width="2.4" filter="url(#b1)"/>
<ellipse cx="139.7" cy="98.5" rx="31.5" ry="31" fill="#4e4e4e" filter="url(#b3)"/>
<ellipse cx="139.7" cy="98.5" rx="31.5" ry="31" fill="none" stroke="#8c8c8c" stroke-width="2.4" filter="url(#b1)"/>
<ellipse cx="209.6" cy="98.5" rx="31.5" ry="31" fill="#4e4e4e" filter="url(#b3)"/>
<ellipse cx="209.6" cy="98.5" rx="31.5" ry="31" fill="none" stroke="#8c8c8c" stroke-width="2.4" filter="url(#b1)"/>
<ellipse cx="279.6" cy="98.5" rx="31.5" ry="31" fill="#4e4e4e" filter="url(#b3)"/>
<ellipse cx="279.6" cy="98.5" rx="31.5" ry="31" fill="none" stroke="#8c8c8c" stroke-width="2.4" filter="url(#b1)"/>
<ellipse cx="-0.4" cy="170.5" rx="31.5" ry="31" fill="#4e4e4e" filter="url(#b3)"/>
<ellipse cx="-0.4" cy="170.5" rx="31.5" ry="31" fill="none" stroke="#8c8c8c" stroke-width="2.4" filter="url(#b1)"/>
<ellipse cx="69.6" cy="170.5" rx="31.5" ry="31" fill="#4e4e4e" filter="url(#b3)"/>
<ellipse cx="69.6" cy="170.5" rx="31.5" ry="31" fill="none" stroke="#8c8c8c" stroke-width="2.4" filter="url(#b1)"/>
<ellipse cx="139.7" cy="170.5" rx="31.5" ry="31" fill="#4e4e4e" filter="url(#b3)"/>
<ellipse cx="139.7" cy="170.5" rx="31.5" ry="31" fill="none" stroke="#8c8c8c" stroke-width="2.4" filter="url(#b1)"/>
<ellipse cx="209.6" cy="170.5" rx="31.5" ry="31" fill="#4e4e4e" filter="url(#b3)"/>
<ellipse cx="209.6" cy="170.5" rx="31.5" ry="31" fill="none" stroke="#8c8c8c" stroke-width="2.4" filter="url(#b1)"/>
<ellipse cx="279.6" cy="170.5" rx="31.5" ry="31" fill="#4e4e4e" filter="url(#b3)"/>
<ellipse cx="279.6" cy="170.5" rx="31.5" ry="31" fill="none" stroke="#8c8c8c" stroke-width="2.4" filter="url(#b1)"/>
<circle cx="-0.4" cy="18.5" r="29.6" fill="#4e4e4e" filter="url(#b1)"/>
<circle cx="-0.4" cy="18.5" r="28.4" fill="#1f1f1f" filter="url(#b1)"/>
<circle cx="69.6" cy="18.5" r="29.6" fill="#4e4e4e" filter="url(#b1)"/>
<circle cx="69.6" cy="18.5" r="28.4" fill="#1f1f1f" filter="url(#b1)"/>
<circle cx="139.7" cy="18.5" r="29.6" fill="#4e4e4e" filter="url(#b1)"/>
<circle cx="139.7" cy="18.5" r="28.4" fill="#1f1f1f" filter="url(#b1)"/>
<circle cx="209.6" cy="18.5" r="29.6" fill="#4e4e4e" filter="url(#b1)"/>
<circle cx="209.6" cy="18.5" r="28.4" fill="#1f1f1f" filter="url(#b1)"/>
<circle cx="279.6" cy="18.5" r="29.6" fill="#4e4e4e" filter="url(#b1)"/>
<circle cx="279.6" cy="18.5" r="28.4" fill="#1f1f1f" filter="url(#b1)"/>
<circle cx="-0.4" cy="89.5" r="29.6" fill="#4e4e4e" filter="url(#b1)"/>
<circle cx="-0.4" cy="89.5" r="28.4" fill="#1f1f1f" filter="url(#b1)"/>
<circle cx="69.6" cy="89.5" r="29.6" fill="#4e4e4e" filter="url(#b1)"/>
<circle cx="69.6" cy="89.5" r="28.4" fill="#1f1f1f" filter="url(#b1)"/>
<circle cx="139.7" cy="89.5" r="29.6" fill="#4e4e4e" filter="url(#b1)"/>
<circle cx="139.7" cy="89.5" r="28.4" fill="#1f1f1f" filter="url(#b1)"/>
<circle cx="209.6" cy="89.5" r="29.6" fill="#4e4e4e" filter="url(#b1)"/>
<circle cx="209.6" cy="89.5" r="28.4" fill="#1f1f1f" filter="url(#b1)"/>
<circle cx="279.6" cy="89.5" r="29.6" fill="#4e4e4e" filter="url(#b1)"/>
<circle cx="279.6" cy="89.5" r="28.4" fill="#1f1f1f" filter="url(#b1)"/>
<circle cx="-0.4" cy="161.5" r="29.6" fill="#4e4e4e" filter="url(#b1)"/>
<circle cx="-0.4" cy="161.5" r="28.4" fill="#1f1f1f" filter="url(#b1)"/>
<circle cx="69.6" cy="161.5" r="29.6" fill="#4e4e4e" filter="url(#b1)"/>
<circle cx="69.6" cy="161.5" r="28.4" fill="#1f1f1f" filter="url(#b1)"/>
<circle cx="139.7" cy="161.5" r="29.6" fill="#4e4e4e" filter="url(#b1)"/>
<circle cx="139.7" cy="161.5" r="28.4" fill="#1f1f1f" filter="url(#b1)"/>
<circle cx="209.6" cy="161.5" r="29.6" fill="#4e4e4e" filter="url(#b1)"/>
<circle cx="209.6" cy="161.5" r="28.4" fill="#1f1f1f" filter="url(#b1)"/>
<circle cx="279.6" cy="161.5" r="29.6" fill="#4e4e4e" filter="url(#b1)"/>
<circle cx="279.6" cy="161.5" r="28.4" fill="#1f1f1f" filter="url(#b1)"/>
<rect width="265.5" height="212.5" filter="url(#noise)" opacity="0.2"/>
<text x="1.5" y="209" font-size="7.6" fill="#f0f0f0" textLength="133" lengthAdjust="spacingAndGlyphs">SU8000 1.0kV 8.0mm x80.0k SE(UL)</text>
<text x="236" y="209" font-size="7.6" fill="#f0f0f0" textLength="28" lengthAdjust="spacingAndGlyphs">500nm</text>
<rect x="176.0" y="199" width="1.3" height="2.2" fill="#f0f0f0"/>
<rect x="184.1" y="199" width="1.3" height="2.2" fill="#f0f0f0"/>
<rect x="192.2" y="199" width="1.3" height="2.2" fill="#f0f0f0"/>
<rect x="200.3" y="199" width="1.3" height="2.2" fill="#f0f0f0"/>
<rect x="208.4" y="199" width="1.3" height="2.2" fill="#f0f0f0"/>
<rect x="216.5" y="199" width="1.3" height="2.2" fill="#f0f0f0"/>
<rect x="224.6" y="199" width="1.3" height="2.2" fill="#f0f0f0"/>
<rect x="232.7" y="199" width="1.3" height="2.2" fill="#f0f0f0"/>
<rect x="240.8" y="199" width="1.3" height="2.2" fill="#f0f0f0"/>
<rect x="248.9" y="199" width="1.3" height="2.2" fill="#f0f0f0"/>
<rect x="257.0" y="199" width="1.3" height="2.2" fill="#f0f0f0"/>
</svg>
<line x1="945.8" y1="332" x2="945.8" y2="436" stroke="#8a8a8a" stroke-width="1.2" stroke-dasharray="5,3"/>
<line x1="1014.8" y1="364" x2="1014.8" y2="440" stroke="#8a8a8a" stroke-width="1.2" stroke-dasharray="5,3"/>
<polyline points="869.5,138.0 870.5,138.6 871.5,139.3 872.5,140.0 873.5,140.8 874.5,141.6 875.5,142.5 876.5,143.4 877.5,144.4 878.5,145.5 879.5,146.6 880.5,147.8 881.5,149.1 882.5,150.5 883.5,151.8 884.5,153.2 885.5,154.6 886.5,155.9 887.5,157.4 888.5,158.8 889.5,160.3 890.5,161.9 891.5,163.5 892.5,165.1 893.5,166.8 894.5,168.5 895.5,170.3 896.5,172.1 897.5,174.1 898.5,176.1 899.5,178.2 900.5,180.4 901.5,182.7 902.5,185.2 903.5,187.8 904.5,190.4 905.5,193.4 906.5,196.5 907.5,199.7 908.5,202.9 909.5,206.0 910.5,209.3 911.5,213.0 912.5,217.1 913.5,221.8 914.5,226.9 915.5,232.6 916.5,238.7 917.5,245.8 918.5,254.2 919.5,263.2 920.5,272.0 921.5,279.7 922.5,286.7 923.5,293.3 924.5,299.6 925.5,306.0 926.5,312.4 927.5,319.0 928.5,325.5 929.5,332.0 930.5,338.6 931.5,345.4 932.5,352.5 933.5,360.2 934.5,368.5 935.5,377.0 936.5,385.3 937.5,393.2 938.5,400.3 939.5,407.2 940.5,414.0 941.5,420.1 942.5,425.3 943.5,429.5 944.5,432.6 945.5,434.6 946.5,435.6 947.5,434.9 948.5,433.2 949.5,429.6 950.5,424.6 951.5,419.5 952.5,414.3 953.5,408.6 954.5,402.8 955.5,397.1 956.5,391.9 957.5,387.2 958.5,382.6 959.5,378.1 960.5,374.0 961.5,370.4 962.5,367.5 963.5,365.1 964.5,362.8 965.5,360.8 966.5,358.9 967.5,357.3 968.5,355.9 969.5,354.8 970.5,354.0 971.5,353.2 972.5,352.5 973.5,352.0 974.5,351.6 975.5,351.4 976.5,351.6 977.5,352.2 978.5,353.1 979.5,354.3 980.5,355.8 981.5,357.3 982.5,359.0 983.5,360.7 984.5,362.9 985.5,365.6 986.5,368.6 987.5,371.9 988.5,375.4 989.5,378.8 990.5,382.2 991.5,385.5 992.5,389.0 993.5,392.6 994.5,396.3 995.5,400.0 996.5,403.5 997.5,406.9 998.5,410.0 999.5,413.1 1000.5,416.3 1001.5,419.3 1002.5,422.2 1003.5,424.9 1004.5,427.3 1005.5,429.2 1006.5,430.9 1007.5,432.4 1008.5,433.7 1009.5,434.8 1010.5,435.6 1011.5,436.3 1012.5,437.0 1013.5,437.5 1014.5,437.8 1015.5,437.8 1016.5,437.5 1017.5,437.1 1018.5,436.5 1019.5,435.8 1020.5,434.6 1021.5,432.7 1022.5,430.5 1023.5,428.2 1024.5,425.5 1025.5,422.6 1026.5,419.5 1027.5,416.3 1028.5,413.2 1029.5,410.2 1030.5,407.4 1031.5,404.8 1032.5,402.2 1033.5,399.5 1034.5,396.5 1035.5,393.2 1036.5,389.8 1037.5,386.2 1038.5,382.4 1039.5,378.6 1040.5,374.8 1041.5,370.9 1042.5,367.0 1043.5,363.1 1044.5,359.2 1045.5,355.1 1046.5,351.0 1047.5,346.9 1048.5,342.8 1049.5,338.8 1050.5,334.9 1051.5,331.3 1052.5,327.7 1053.5,324.3 1054.5,320.9 1055.5,317.7 1056.5,314.4 1057.5,311.2 1058.5,308.0 1059.5,304.8 1060.5,301.6 1061.5,298.4 1062.5,295.1 1063.5,291.8 1064.5,288.6 1065.5,285.4 1066.5,282.4 1067.5,279.4 1068.5,276.5 1069.5,273.7 1070.5,270.9 1071.5,268.1 1072.5,265.5 1073.5,262.8 1074.5,260.3 1075.5,257.7 1076.5,255.2 1077.5,252.7 1078.5,250.2 1079.5,247.8 1080.5,245.5 1081.5,243.1 1082.5,240.8 1083.5,238.6 1084.5,236.4 1085.5,234.2 1086.5,232.0 1087.5,229.9 1088.5,227.8 1089.5,225.8 1090.5,223.8 1091.5,221.8 1092.5,219.9 1093.5,217.9 1094.5,216.1 1095.5,214.2 1096.5,212.4 1097.5,210.6 1098.5,208.8 1099.5,207.1 1100.5,205.4 1101.5,203.7 1102.5,202.1 1103.5,200.4 1104.5,198.9 1105.5,197.3 1106.5,195.7 1107.5,194.2 1108.5,192.7 1109.5,191.3 1110.5,189.8 1111.5,188.4 1112.5,187.0 1113.5,185.6 1114.5,184.2 1115.5,182.9 1116.5,181.6 1117.5,180.3 1118.5,179.0 1119.5,177.8 1120.5,176.6 1121.5,175.3 1122.5,174.2 1123.5,173.0 1124.5,171.8 1125.5,170.7 1126.5,169.6 1127.5,168.5 1128.5,167.4 1129.5,166.3 1130.5,165.3 1131.5,164.2 1132.5,163.2 1133.5,162.2 1134.5,161.2 1135.5,160.2 1136.5,159.3 1137.5,158.3 1138.5,157.4 1139.5,156.5 1140.5,155.5 1141.5,154.6 1142.5,153.7 1143.5,152.9 1144.5,152.0 1145.5,151.1 1146.5,150.3 1147.5,149.4 1148.5,148.6 1149.5,147.8 1150.5,147.0 1151.5,146.2 1152.5,145.4 1153.5,144.6 1154.5,143.8 1155.5,143.0 1156.5,142.3 1157.5,141.5 1158.5,140.7 1159.5,140.0 1160.5,139.3 1161.5,138.5 1162.5,137.8 1163.5,137.1 1164.5,136.4 1165.5,135.7 1166.5,135.0 1167.5,134.3 1168.5,133.6 1169.5,132.9 1170.5,132.3 1171.5,131.6 1172.5,130.9 1173.5,130.3 1174.5,129.6 1175.5,129.0 1176.5,128.4 1177.5,127.7 1178.5,127.1 1179.5,126.5 1180.5,125.9 1181.5,125.3 1182.5,124.7 1183.5,124.1 1184.5,123.5 1185.5,122.9 1186.5,122.3 1187.5,121.8 1188.5,121.2 1189.5,120.6 1190.5,120.1 1191.5,119.5 1192.5,119.0 1193.5,118.4 1194.5,117.9 1195.5,117.3 1196.5,116.8 1197.5,116.3 1198.5,115.8 1199.5,115.2 1200.5,114.7 1201.5,114.2 1202.5,113.7 1203.5,113.2 1204.5,112.7 1205.5,112.2 1206.5,111.7 1207.5,111.3 1208.5,110.8 1209.5,110.3 1210.5,109.8 1211.5,109.4 1212.5,108.9 1213.5,108.5 1214.5,108.0 1215.5,107.6 1216.5,107.1 1217.5,106.7 1218.5,106.2 1219.5,105.8 1220.5,105.4 1221.5,105.0 1222.5,104.5 1223.5,104.1 1224.5,103.7 1225.5,103.3 1226.5,102.9 1227.5,102.5 1228.5,102.1 1229.5,101.7 1230.5,101.3 1231.5,101.0 1232.5,100.6 1233.5,100.2 1234.5,99.8 1235.5,99.5 1236.5,99.1 1237.5,98.7 1238.5,98.4 1239.5,98.0 1240.5,97.7 1241.5,97.3 1242.5,97.0 1243.5,96.6 1244.5,96.3 1245.5,95.9 1246.5,95.6 1247.5,95.3 1248.5,95.0 1249.5,94.6 1250.5,94.3 1251.5,94.0 1252.5,93.7 1253.5,93.4 1254.5,93.1 1255.5,92.8 1256.5,92.5 1257.5,92.2 1258.5,91.9 1259.5,91.6 1260.5,91.3 1261.5,91.0 1262.5,90.7 1263.5,90.4 1264.5,90.2 1265.5,89.9 1266.5,89.6 1267.5,89.3 1268.5,89.1 1269.5,88.8 1270.5,88.5 1271.5,88.3 1272.5,88.0 1273.5,87.8 1274.5,87.5 1275.5,87.3 1276.5,87.0 1277.5,86.8 1278.5,86.5 1279.5,86.3 1280.5,86.0 1281.5,85.8 1282.5,85.6 1283.5,85.3 1284.5,85.1 1285.5,84.9 1286.5,84.7 1287.5,84.4 1288.5,84.2 1289.5,84.0 1290.5,83.8 1291.5,83.6 1292.5,83.3 1293.5,83.1 1294.5,82.9 1295.5,82.7 1296.5,82.5 1297.5,82.3 1298.5,82.1 1299.5,81.9 1300.5,81.7 1301.5,81.5 1302.5,81.3 1303.5,81.1 1304.5,80.9 1305.5,80.7 1306.5,80.5 1307.5,80.3 1308.5,80.2 1309.5,80.0 1310.5,79.8 1311.5,79.6 1312.5,79.4 1313.5,79.2 1314.5,79.1 1315.5,78.9 1316.5,78.7 1317.5,78.5 1318.5,78.4 1319.5,78.2 1320.5,78.0 1321.5,77.9 1322.5,77.7 1323.5,77.5 1324.5,77.3 1325.5,77.2 1326.5,77.0 1327.5,76.8 1328.5,76.7 1329.5,76.5 1330.5,76.4 1331.5,76.2 1332.5,76.0 1333.5,75.9 1334.5,75.7 1335.5,75.6 1336.5,75.4 1337.5,75.2 1338.5,75.1 1339.5,74.9 1340.5,74.8 1341.5,74.6 1342.5,74.5 1343.5,74.3 1344.5,74.2 1345.5,74.0 1346.5,73.8 1347.5,73.7 1348.5,73.5 1349.5,73.4 1350.5,73.2 1351.5,73.1 1352.5,72.9 1353.5,72.8 1354.5,72.6 1355.5,72.5 1356.5,72.3 1357.5,72.2 1358.5,72.0 1359.5,71.9 1360.5,71.7 1361.5,71.6 1362.5,71.4 1363.5,71.3 1364.5,71.1 1365.5,71.0 1366.5,70.8 1367.5,70.7 1368.5,70.5 1369.5,70.4 1370.5,70.2 1371.5,70.1 1372.5,69.9 1373.5,69.7 1374.5,69.6 1375.5,69.4 1376.5,69.3 1377.5,69.1 1378.5,69.0 1379.5,68.8 1380.5,68.6 1381.5,68.5 1382.5,68.3 1383.5,68.2 1384.5,68.0 1385.5,67.8 1386.5,67.7 1387.5,67.5 1388.5,67.4 1389.5,67.2 1390.5,67.0 1391.5,66.9 1392.5,66.7 1393.5,66.5 1394.5,66.3 1395.5,66.2 1396.5,66.0 1397.5,65.8 1398.5,65.7 1399.5,65.5 1400.5,65.3 1401.5,65.1 1402.5,64.9 1403.5,64.8 1404.5,64.6 1405.5,64.4 1406.5,64.2 1407.5,64.0 1408.5,63.8 1409.5,63.6 1410.5,63.5 1411.5,63.3 1412.5,63.1 1413.5,62.9 1414.5,62.7 1415.5,62.5 1416.5,62.3 1417.5,62.1 1418.5,61.9 1419.5,61.7 1420.5,61.4 1421.5,61.2 1422.5,61.0 1423.5,60.8 1424.5,60.6" fill="none" stroke="#000" stroke-width="2.7" stroke-linejoin="round"/>
<polyline points="869.5,92.9 870.5,93.8 871.5,94.3 872.5,94.8 873.5,95.1 874.5,95.7 875.5,95.9 876.5,95.9 877.5,95.9 878.5,95.0 879.5,93.5 880.5,91.8 881.5,90.4 882.5,90.0 883.5,90.3 884.5,90.6 885.5,90.6 886.5,90.3 887.5,90.1 888.5,90.4 889.5,91.4 890.5,92.9 891.5,93.6 892.5,93.1 893.5,92.6 894.5,92.8 895.5,94.6 896.5,97.2 897.5,99.8 898.5,101.9 899.5,103.1 900.5,104.3 901.5,105.6 902.5,107.1 903.5,108.2 904.5,108.0 905.5,107.7 906.5,108.6 907.5,110.3 908.5,112.7 909.5,115.4 910.5,118.1 911.5,121.2 912.5,124.7 913.5,128.2 914.5,132.0 915.5,135.8 916.5,139.9 917.5,144.4 918.5,148.7 919.5,153.0 920.5,157.3 921.5,162.0 922.5,167.1 923.5,172.2 924.5,177.7 925.5,183.5 926.5,189.9 927.5,197.0 928.5,204.8 929.5,213.6 930.5,221.9 931.5,228.8 932.5,234.9 933.5,240.9 934.5,247.0 935.5,252.6 936.5,257.9 937.5,264.1 938.5,270.7 939.5,278.2 940.5,286.4 941.5,294.5 942.5,302.4 943.5,309.3 944.5,314.9 945.5,319.6 946.5,323.7 947.5,327.1 948.5,329.6 949.5,331.3 950.5,331.8 951.5,332.1 952.5,332.9 953.5,333.9 954.5,333.9 955.5,332.7 956.5,331.1 957.5,329.8 958.5,328.4 959.5,326.5 960.5,323.6 961.5,320.5 962.5,317.1 963.5,313.6 964.5,310.7 965.5,307.7 966.5,305.3 967.5,303.1 968.5,301.0 969.5,299.7 970.5,298.5 971.5,297.4 972.5,296.4 973.5,295.3 974.5,294.1 975.5,293.7 976.5,294.9 977.5,296.7 978.5,298.7 979.5,300.1 980.5,302.3 981.5,305.6 982.5,308.9 983.5,311.6 984.5,313.9 985.5,316.0 986.5,318.2 987.5,321.1 988.5,323.7 989.5,325.2 990.5,326.4 991.5,328.6 992.5,332.0 993.5,335.1 994.5,337.2 995.5,338.6 996.5,340.5 997.5,343.0 998.5,345.1 999.5,347.2 1000.5,349.4 1001.5,351.3 1002.5,352.7 1003.5,353.8 1004.5,354.8 1005.5,355.8 1006.5,356.8 1007.5,357.4 1008.5,358.6 1009.5,360.1 1010.5,361.4 1011.5,362.6 1012.5,362.8 1013.5,362.6 1014.5,362.5 1015.5,362.3 1016.5,361.7 1017.5,361.1 1018.5,360.2 1019.5,359.0 1020.5,357.5 1021.5,355.4 1022.5,353.6 1023.5,352.2 1024.5,350.3 1025.5,347.5 1026.5,344.2 1027.5,341.7 1028.5,339.7 1029.5,337.5 1030.5,335.0 1031.5,332.1 1032.5,329.8 1033.5,328.2 1034.5,326.3 1035.5,323.5 1036.5,320.1 1037.5,316.6 1038.5,313.6 1039.5,311.3 1040.5,309.2 1041.5,306.6 1042.5,304.0 1043.5,301.7 1044.5,299.1 1045.5,296.9 1046.5,295.1 1047.5,293.4 1048.5,291.8 1049.5,289.1 1050.5,286.3 1051.5,284.2 1052.5,281.8 1053.5,278.6 1054.5,274.6 1055.5,270.8 1056.5,268.0 1057.5,265.9 1058.5,264.1 1059.5,262.9 1060.5,260.7 1061.5,257.3 1062.5,253.2 1063.5,249.5 1064.5,247.4 1065.5,245.7 1066.5,243.6 1067.5,241.3 1068.5,239.5 1069.5,237.9 1070.5,235.7 1071.5,232.9 1072.5,229.7 1073.5,227.1 1074.5,225.2 1075.5,223.5 1076.5,221.5 1077.5,219.6 1078.5,217.3 1079.5,215.0 1080.5,213.0 1081.5,210.8 1082.5,208.7 1083.5,206.6 1084.5,204.7 1085.5,203.0 1086.5,201.6 1087.5,200.2 1088.5,198.8 1089.5,197.4 1090.5,195.8 1091.5,194.0 1092.5,191.9 1093.5,189.8 1094.5,188.1 1095.5,186.7 1096.5,185.3 1097.5,184.0 1098.5,183.0 1099.5,182.0 1100.5,180.6 1101.5,178.7 1102.5,177.2 1103.5,176.0 1104.5,175.1 1105.5,174.1 1106.5,172.5 1107.5,171.2 1108.5,170.0 1109.5,169.0 1110.5,168.1 1111.5,167.1 1112.5,166.3 1113.5,165.0 1114.5,163.8 1115.5,162.5 1116.5,161.5 1117.5,161.0 1118.5,160.1 1119.5,159.0 1120.5,158.0 1121.5,156.9 1122.5,156.1 1123.5,154.9 1124.5,153.7 1125.5,152.8 1126.5,152.1 1127.5,151.3 1128.5,150.3 1129.5,149.0 1130.5,147.4 1131.5,146.3 1132.5,145.1 1133.5,144.4 1134.5,144.0 1135.5,143.7 1136.5,143.3 1137.5,142.4 1138.5,141.2 1139.5,139.6 1140.5,138.8 1141.5,138.9 1142.5,138.3 1143.5,137.7 1144.5,136.6 1145.5,135.1 1146.5,134.1 1147.5,133.3 1148.5,132.8 1149.5,132.3 1150.5,131.6 1151.5,130.3 1152.5,129.3 1153.5,128.7 1154.5,127.9 1155.5,126.7 1156.5,125.4 1157.5,124.1 1158.5,123.5 1159.5,123.6 1160.5,123.7 1161.5,123.4 1162.5,122.7 1163.5,121.5 1164.5,120.4 1165.5,119.9 1166.5,119.7 1167.5,119.1 1168.5,117.9 1169.5,116.3 1170.5,115.0 1171.5,114.3 1172.5,113.8 1173.5,113.6 1174.5,113.7 1175.5,113.4 1176.5,113.0 1177.5,112.2 1178.5,111.5 1179.5,111.0 1180.5,109.8 1181.5,108.5 1182.5,107.4 1183.5,106.4 1184.5,105.7 1185.5,105.0 1186.5,104.4 1187.5,104.6 1188.5,104.6 1189.5,104.0 1190.5,103.0 1191.5,102.0 1192.5,101.5 1193.5,100.9 1194.5,100.3 1195.5,99.8 1196.5,99.9 1197.5,100.5 1198.5,100.8 1199.5,100.7 1200.5,99.9 1201.5,98.6 1202.5,97.9 1203.5,97.7 1204.5,98.1 1205.5,97.9 1206.5,96.8 1207.5,95.7 1208.5,94.7 1209.5,94.5 1210.5,94.2 1211.5,93.9 1212.5,93.9 1213.5,94.1 1214.5,94.2 1215.5,93.4 1216.5,92.8 1217.5,92.6 1218.5,92.4 1219.5,92.0 1220.5,91.7 1221.5,91.8 1222.5,92.3 1223.5,92.2 1224.5,91.5 1225.5,90.8 1226.5,90.3 1227.5,90.0 1228.5,90.3 1229.5,90.4 1230.5,90.0 1231.5,89.4 1232.5,89.0 1233.5,89.4 1234.5,89.4 1235.5,88.9 1236.5,88.3 1237.5,88.5 1238.5,88.9 1239.5,88.3 1240.5,87.5 1241.5,86.6 1242.5,86.0 1243.5,85.8 1244.5,85.7 1245.5,86.0 1246.5,86.5 1247.5,86.4 1248.5,86.3 1249.5,86.5 1250.5,86.7 1251.5,86.3 1252.5,85.3 1253.5,84.5 1254.5,84.3 1255.5,84.7 1256.5,85.0 1257.5,84.7 1258.5,84.4 1259.5,84.2 1260.5,84.0 1261.5,83.6 1262.5,82.5 1263.5,81.7 1264.5,81.6 1265.5,81.6 1266.5,81.9 1267.5,81.8 1268.5,81.1 1269.5,80.7 1270.5,80.8 1271.5,81.2 1272.5,81.4 1273.5,81.5 1274.5,81.4 1275.5,81.7 1276.5,81.8 1277.5,80.5 1278.5,79.1 1279.5,78.3 1280.5,78.1 1281.5,78.3 1282.5,78.3 1283.5,78.8 1284.5,79.4 1285.5,79.6 1286.5,79.5 1287.5,79.0 1288.5,78.8 1289.5,78.4 1290.5,78.1 1291.5,78.2 1292.5,78.2 1293.5,78.2 1294.5,78.0 1295.5,77.6 1296.5,77.5 1297.5,77.7 1298.5,77.9 1299.5,78.1 1300.5,78.2 1301.5,77.7 1302.5,77.0 1303.5,76.3 1304.5,75.9 1305.5,75.7 1306.5,75.1 1307.5,74.3 1308.5,73.7 1309.5,74.0 1310.5,75.2 1311.5,76.3 1312.5,77.0 1313.5,76.6 1314.5,75.6 1315.5,75.1 1316.5,75.5 1317.5,76.4 1318.5,76.8 1319.5,76.2 1320.5,75.0 1321.5,73.8 1322.5,73.3 1323.5,73.2 1324.5,73.8 1325.5,74.8 1326.5,75.4 1327.5,76.0 1328.5,76.0 1329.5,75.9 1330.5,75.9 1331.5,75.3 1332.5,74.6 1333.5,74.0 1334.5,73.4 1335.5,73.2 1336.5,73.1 1337.5,73.1 1338.5,73.1 1339.5,72.9 1340.5,72.4 1341.5,71.9 1342.5,72.1 1343.5,72.7 1344.5,73.3 1345.5,73.7 1346.5,73.5 1347.5,73.0 1348.5,72.8 1349.5,72.9 1350.5,73.5 1351.5,74.4 1352.5,75.1 1353.5,75.0 1354.5,75.0 1355.5,74.5 1356.5,73.8 1357.5,72.8 1358.5,71.7 1359.5,71.7 1360.5,72.6 1361.5,73.4 1362.5,73.5 1363.5,73.0 1364.5,72.3 1365.5,71.7 1366.5,71.5 1367.5,71.4 1368.5,72.0 1369.5,72.6 1370.5,72.3 1371.5,71.7 1372.5,71.1 1373.5,71.3 1374.5,72.0 1375.5,72.8 1376.5,73.1 1377.5,73.0 1378.5,72.3 1379.5,72.0 1380.5,72.1 1381.5,72.1 1382.5,72.0 1383.5,71.7 1384.5,72.2 1385.5,73.1 1386.5,73.2 1387.5,72.9 1388.5,72.9 1389.5,72.6 1390.5,72.6 1391.5,73.3 1392.5,73.8 1393.5,74.0 1394.5,73.8 1395.5,72.9 1396.5,71.9 1397.5,70.8 1398.5,69.7 1399.5,69.6 1400.5,70.6 1401.5,71.7 1402.5,72.1 1403.5,72.0 1404.5,72.4 1405.5,73.2 1406.5,74.3 1407.5,74.6 1408.5,74.0 1409.5,73.2 1410.5,72.5 1411.5,72.3 1412.5,72.3 1413.5,72.7 1414.5,72.7 1415.5,72.1 1416.5,71.9 1417.5,71.7 1418.5,71.5 1419.5,71.0 1420.5,70.0 1421.5,69.8 1422.5,70.7 1423.5,71.7 1424.5,72.3" fill="none" stroke="#ff0000" stroke-width="2.5" stroke-linejoin="round"/>
<polyline points="869.5,104.3 870.5,104.5 871.5,104.7 872.5,106.0 873.5,107.4 874.5,108.5 875.5,108.7 876.5,108.1 877.5,107.8 878.5,107.2 879.5,106.1 880.5,104.9 881.5,103.9 882.5,103.7 883.5,104.3 884.5,105.2 885.5,105.8 886.5,106.3 887.5,106.8 888.5,107.8 889.5,109.0 890.5,110.2 891.5,110.8 892.5,111.3 893.5,112.6 894.5,113.9 895.5,114.5 896.5,114.3 897.5,114.4 898.5,116.2 899.5,119.1 900.5,122.0 901.5,124.0 902.5,125.7 903.5,127.2 904.5,129.0 905.5,131.1 906.5,133.2 907.5,135.7 908.5,139.2 909.5,143.2 910.5,146.8 911.5,149.8 912.5,153.2 913.5,157.6 914.5,162.8 915.5,167.5 916.5,171.6 917.5,177.0 918.5,183.3 919.5,190.6 920.5,198.6 921.5,207.3 922.5,217.6 923.5,228.6 924.5,238.3 925.5,245.9 926.5,251.9 927.5,257.1 928.5,262.5 929.5,268.4 930.5,274.4 931.5,280.2 932.5,285.7 933.5,290.7 934.5,294.9 935.5,299.4 936.5,305.5 937.5,312.2 938.5,318.0 939.5,321.4 940.5,323.8 941.5,325.6 942.5,326.6 943.5,327.3 944.5,328.0 945.5,328.7 946.5,328.9 947.5,328.0 948.5,325.9 949.5,323.4 950.5,320.7 951.5,317.6 952.5,314.4 953.5,311.0 954.5,307.7 955.5,305.1 956.5,302.6 957.5,300.1 958.5,297.8 959.5,295.4 960.5,293.5 961.5,291.7 962.5,290.2 963.5,289.2 964.5,288.3 965.5,287.2 966.5,285.8 967.5,284.4 968.5,283.2 969.5,282.8 970.5,283.2 971.5,284.1 972.5,285.5 973.5,286.8 974.5,287.5 975.5,288.2 976.5,288.7 977.5,289.4 978.5,290.8 979.5,292.1 980.5,293.7 981.5,295.6 982.5,298.0 983.5,300.5 984.5,303.7 985.5,307.2 986.5,310.5 987.5,313.3 988.5,315.1 989.5,316.8 990.5,319.1 991.5,322.0 992.5,324.7 993.5,326.6 994.5,328.1 995.5,329.4 996.5,331.0 997.5,333.2 998.5,335.9 999.5,339.1 1000.5,342.0 1001.5,343.9 1002.5,345.2 1003.5,346.6 1004.5,348.7 1005.5,350.6 1006.5,351.7 1007.5,351.9 1008.5,352.0 1009.5,352.4 1010.5,352.7 1011.5,352.9 1012.5,352.6 1013.5,352.3 1014.5,352.3 1015.5,352.8 1016.5,353.0 1017.5,352.2 1018.5,350.5 1019.5,348.6 1020.5,346.7 1021.5,345.1 1022.5,343.2 1023.5,340.9 1024.5,338.6 1025.5,336.2 1026.5,333.7 1027.5,330.6 1028.5,327.2 1029.5,324.3 1030.5,321.7 1031.5,319.7 1032.5,318.4 1033.5,316.9 1034.5,315.7 1035.5,314.3 1036.5,312.5 1037.5,310.2 1038.5,307.2 1039.5,304.5 1040.5,301.9 1041.5,299.7 1042.5,297.8 1043.5,295.3 1044.5,292.5 1045.5,289.6 1046.5,286.9 1047.5,285.5 1048.5,283.9 1049.5,281.3 1050.5,278.3 1051.5,275.4 1052.5,273.5 1053.5,272.2 1054.5,270.2 1055.5,267.6 1056.5,264.2 1057.5,260.5 1058.5,257.9 1059.5,255.6 1060.5,253.3 1061.5,250.8 1062.5,248.4 1063.5,246.5 1064.5,244.3 1065.5,241.6 1066.5,238.4 1067.5,235.4 1068.5,233.2 1069.5,231.1 1070.5,229.4 1071.5,227.9 1072.5,226.3 1073.5,224.2 1074.5,221.3 1075.5,218.3 1076.5,216.2 1077.5,215.5 1078.5,215.0 1079.5,213.7 1080.5,211.7 1081.5,209.9 1082.5,208.5 1083.5,206.8 1084.5,204.9 1085.5,203.6 1086.5,202.3 1087.5,201.1 1088.5,200.0 1089.5,198.3 1090.5,196.2 1091.5,193.7 1092.5,191.7 1093.5,190.6 1094.5,189.3 1095.5,187.7 1096.5,186.1 1097.5,184.8 1098.5,184.5 1099.5,184.6 1100.5,184.5 1101.5,183.6 1102.5,181.4 1103.5,178.3 1104.5,175.7 1105.5,173.9 1106.5,172.3 1107.5,170.8 1108.5,169.6 1109.5,168.8 1110.5,168.5 1111.5,168.4 1112.5,167.5 1113.5,165.7 1114.5,163.5 1115.5,161.4 1116.5,160.4 1117.5,160.3 1118.5,160.3 1119.5,159.6 1120.5,157.9 1121.5,156.2 1122.5,154.6 1123.5,153.8 1124.5,153.9 1125.5,153.8 1126.5,152.8 1127.5,151.1 1128.5,149.1 1129.5,147.9 1130.5,147.1 1131.5,146.0 1132.5,145.1 1133.5,144.0 1134.5,142.9 1135.5,141.7 1136.5,140.4 1137.5,139.5 1138.5,138.9 1139.5,138.8 1140.5,139.1 1141.5,139.4 1142.5,139.2 1143.5,138.4 1144.5,137.1 1145.5,135.9 1146.5,135.5 1147.5,134.6 1148.5,133.6 1149.5,132.7 1150.5,131.4 1151.5,129.9 1152.5,128.5 1153.5,127.0 1154.5,126.2 1155.5,125.6 1156.5,125.1 1157.5,125.4 1158.5,126.3 1159.5,127.0 1160.5,126.7 1161.5,125.9 1162.5,124.6 1163.5,123.3 1164.5,121.5 1165.5,119.7 1166.5,118.8 1167.5,119.2 1168.5,120.3 1169.5,120.8 1170.5,120.0 1171.5,118.8 1172.5,118.3 1173.5,118.1 1174.5,117.5 1175.5,116.1 1176.5,114.9 1177.5,114.7 1178.5,114.6 1179.5,114.4 1180.5,113.8 1181.5,112.9 1182.5,111.9 1183.5,110.5 1184.5,108.9 1185.5,107.9 1186.5,108.5 1187.5,109.3 1188.5,109.4 1189.5,108.8 1190.5,107.6 1191.5,107.0 1192.5,106.5 1193.5,105.9 1194.5,105.8 1195.5,105.6 1196.5,105.4 1197.5,105.0 1198.5,104.0 1199.5,102.9 1200.5,102.0 1201.5,101.9 1202.5,102.3 1203.5,102.2 1204.5,101.4 1205.5,100.9 1206.5,100.8 1207.5,101.2 1208.5,101.4 1209.5,100.7 1210.5,99.2 1211.5,97.7 1212.5,97.3 1213.5,97.8 1214.5,98.4 1215.5,98.6 1216.5,98.8 1217.5,98.5 1218.5,97.7 1219.5,96.8 1220.5,95.8 1221.5,95.2 1222.5,95.4 1223.5,95.5 1224.5,95.5 1225.5,94.9 1226.5,93.6 1227.5,92.3 1228.5,91.5 1229.5,91.1 1230.5,90.8 1231.5,90.7 1232.5,90.8 1233.5,90.7 1234.5,90.4 1235.5,89.7 1236.5,88.0 1237.5,86.8 1238.5,86.4 1239.5,86.8 1240.5,87.4 1241.5,87.1 1242.5,86.6 1243.5,86.6 1244.5,87.1 1245.5,87.4 1246.5,86.9 1247.5,85.8 1248.5,84.9 1249.5,84.6 1250.5,84.4 1251.5,84.0 1252.5,83.6 1253.5,83.7 1254.5,84.4 1255.5,85.0 1256.5,84.5 1257.5,83.6 1258.5,83.2 1259.5,83.5 1260.5,83.8 1261.5,83.3 1262.5,82.0 1263.5,80.5 1264.5,79.2 1265.5,78.9 1266.5,79.6 1267.5,80.1 1268.5,80.4 1269.5,80.4 1270.5,79.8 1271.5,79.4 1272.5,78.8 1273.5,78.0 1274.5,77.3 1275.5,76.4 1276.5,76.0 1277.5,75.8 1278.5,75.6 1279.5,75.8 1280.5,75.9 1281.5,76.3 1282.5,76.3 1283.5,75.6 1284.5,75.0 1285.5,74.9 1286.5,74.9 1287.5,74.8 1288.5,74.7 1289.5,74.2 1290.5,73.8 1291.5,73.3 1292.5,72.3 1293.5,71.9 1294.5,72.2 1295.5,72.5 1296.5,73.3 1297.5,74.0 1298.5,74.0 1299.5,73.6 1300.5,72.5 1301.5,71.9 1302.5,72.1 1303.5,72.3 1304.5,72.8 1305.5,72.6 1306.5,72.1 1307.5,71.6 1308.5,71.3 1309.5,71.9 1310.5,71.6 1311.5,70.3 1312.5,68.4 1313.5,67.1 1314.5,67.0 1315.5,67.1 1316.5,67.2 1317.5,67.2 1318.5,67.8 1319.5,68.4 1320.5,68.2 1321.5,67.6 1322.5,66.4 1323.5,65.7 1324.5,65.4 1325.5,65.6 1326.5,66.4 1327.5,67.0 1328.5,67.2 1329.5,67.3 1330.5,67.2 1331.5,67.3 1332.5,66.9 1333.5,66.5 1334.5,66.5 1335.5,66.5 1336.5,66.2 1337.5,65.8 1338.5,65.8 1339.5,66.7 1340.5,67.8 1341.5,67.7 1342.5,67.0 1343.5,65.9 1344.5,65.5 1345.5,65.4 1346.5,65.0 1347.5,64.7 1348.5,64.4 1349.5,64.6 1350.5,65.1 1351.5,65.5 1352.5,65.7 1353.5,65.3 1354.5,64.3 1355.5,63.1 1356.5,62.3 1357.5,62.3 1358.5,62.8 1359.5,62.9 1360.5,62.7 1361.5,62.5 1362.5,62.1 1363.5,62.0 1364.5,62.0 1365.5,61.7 1366.5,61.1 1367.5,60.6 1368.5,60.5 1369.5,61.0 1370.5,61.3 1371.5,61.5 1372.5,61.9 1373.5,62.4 1374.5,62.8 1375.5,62.7 1376.5,62.4 1377.5,62.1 1378.5,61.4 1379.5,60.8 1380.5,60.5 1381.5,60.6 1382.5,60.8 1383.5,60.6 1384.5,60.5 1385.5,61.1 1386.5,61.8 1387.5,61.9 1388.5,60.8 1389.5,59.6 1390.5,59.5 1391.5,59.7 1392.5,60.1 1393.5,60.6 1394.5,60.7 1395.5,60.6 1396.5,60.0 1397.5,59.3 1398.5,59.5 1399.5,59.4 1400.5,59.4 1401.5,59.8 1402.5,60.5 1403.5,61.5 1404.5,61.8 1405.5,61.3 1406.5,60.9 1407.5,60.7 1408.5,60.7 1409.5,60.4 1410.5,59.7 1411.5,59.0 1412.5,58.5 1413.5,58.0 1414.5,57.5 1415.5,57.3 1416.5,57.4 1417.5,57.8 1418.5,58.3 1419.5,59.2 1420.5,60.2 1421.5,60.3 1422.5,59.5 1423.5,58.6 1424.5,58.3" fill="none" stroke="#0000ff" stroke-width="2.5" stroke-linejoin="round"/>
<rect x="869.5" y="17.5" width="555.3" height="423.1" fill="none" stroke="#000" stroke-width="2.4"/>
<line x1="869.5" y1="440.6" x2="884.5" y2="440.6" stroke="#000" stroke-width="2.2" />
<line x1="869.5" y1="398.29" x2="877.0" y2="398.29" stroke="#000" stroke-width="2.2" />
<line x1="869.5" y1="355.98" x2="884.5" y2="355.98" stroke="#000" stroke-width="2.2" />
<line x1="869.5" y1="313.67" x2="877.0" y2="313.67" stroke="#000" stroke-width="2.2" />
<line x1="869.5" y1="271.36" x2="884.5" y2="271.36" stroke="#000" stroke-width="2.2" />
<line x1="869.5" y1="229.05" x2="877.0" y2="229.05" stroke="#000" stroke-width="2.2" />
<line x1="869.5" y1="186.74" x2="884.5" y2="186.74" stroke="#000" stroke-width="2.2" />
<line x1="869.5" y1="144.43" x2="877.0" y2="144.43" stroke="#000" stroke-width="2.2" />
<line x1="869.5" y1="102.12" x2="884.5" y2="102.12" stroke="#000" stroke-width="2.2" />
<line x1="869.5" y1="59.81" x2="877.0" y2="59.81" stroke="#000" stroke-width="2.2" />
<line x1="869.5" y1="17.5" x2="884.5" y2="17.5" stroke="#000" stroke-width="2.2" />
<line x1="869.5" y1="440.6" x2="869.5" y2="425.6" stroke="#000" stroke-width="2.2" />
<line x1="925.03" y1="440.6" x2="925.03" y2="433.1" stroke="#000" stroke-width="2.2" />
<line x1="980.56" y1="440.6" x2="980.56" y2="425.6" stroke="#000" stroke-width="2.2" />
<line x1="1036.09" y1="440.6" x2="1036.09" y2="433.1" stroke="#000" stroke-width="2.2" />
<line x1="1091.62" y1="440.6" x2="1091.62" y2="425.6" stroke="#000" stroke-width="2.2" />
<line x1="1147.15" y1="440.6" x2="1147.15" y2="433.1" stroke="#000" stroke-width="2.2" />
<line x1="1202.6799999999998" y1="440.6" x2="1202.6799999999998" y2="425.6" stroke="#000" stroke-width="2.2" />
<line x1="1258.21" y1="440.6" x2="1258.21" y2="433.1" stroke="#000" stroke-width="2.2" />
<line x1="1313.74" y1="440.6" x2="1313.74" y2="425.6" stroke="#000" stroke-width="2.2" />
<line x1="1369.27" y1="440.6" x2="1369.27" y2="433.1" stroke="#000" stroke-width="2.2" />
<line x1="1424.8" y1="440.6" x2="1424.8" y2="425.6" stroke="#000" stroke-width="2.2" />
<text x="852.2" y="449.8" font-size="29.5" text-anchor="end" font-weight="normal" fill="#000" >0</text>
<text x="852.2" y="365.18" font-size="29.5" text-anchor="end" font-weight="normal" fill="#000" >20</text>
<text x="852.2" y="280.56" font-size="29.5" text-anchor="end" font-weight="normal" fill="#000" >40</text>
<text x="852.2" y="195.94" font-size="29.5" text-anchor="end" font-weight="normal" fill="#000" >60</text>
<text x="852.2" y="111.32000000000001" font-size="29.5" text-anchor="end" font-weight="normal" fill="#000" >80</text>
<text x="852.2" y="26.7" font-size="29.5" text-anchor="end" font-weight="normal" fill="#000" >100</text>
<text x="869.5" y="481.3" font-size="29.5" text-anchor="middle" font-weight="normal" fill="#000" >600</text>
<text x="980.56" y="481.3" font-size="29.5" text-anchor="middle" font-weight="normal" fill="#000" >630</text>
<text x="1091.62" y="481.3" font-size="29.5" text-anchor="middle" font-weight="normal" fill="#000" >660</text>
<text x="1202.6799999999998" y="481.3" font-size="29.5" text-anchor="middle" font-weight="normal" fill="#000" >690</text>
<text x="1313.74" y="481.3" font-size="29.5" text-anchor="middle" font-weight="normal" fill="#000" >720</text>
<text x="1424.8" y="481.3" font-size="29.5" text-anchor="middle" font-weight="normal" fill="#000" >750</text>
<text x="1144.6" y="538.7" font-size="36" text-anchor="middle" font-weight="normal" fill="#000" >Wavelength (nm)</text>
<text transform="translate(768.8,202.3) rotate(-90)" x="0" y="0" font-size="36.3" text-anchor="middle">Transmittance (%)</text>
<line x1="922.1" y1="44.8" x2="988.1" y2="44.8" stroke="#ff0000" stroke-width="2.2" />
<text x="995" y="55.2" font-size="28.4" text-anchor="start" font-weight="normal" fill="#000" >0-pol exp.</text>
<line x1="922.1" y1="79.8" x2="988.1" y2="79.8" stroke="#0000ff" stroke-width="2.2" />
<text x="995" y="89.5" font-size="28.4" text-anchor="start" font-weight="normal" fill="#000" >45-pol exp.</text>
<line x1="922.1" y1="115.1" x2="988.1" y2="115.1" stroke="#000" stroke-width="2.2" />
<text x="995" y="124.7" font-size="28.4" text-anchor="start" font-weight="normal" fill="#000" >0-pol num.</text>
</svg></body></html>
